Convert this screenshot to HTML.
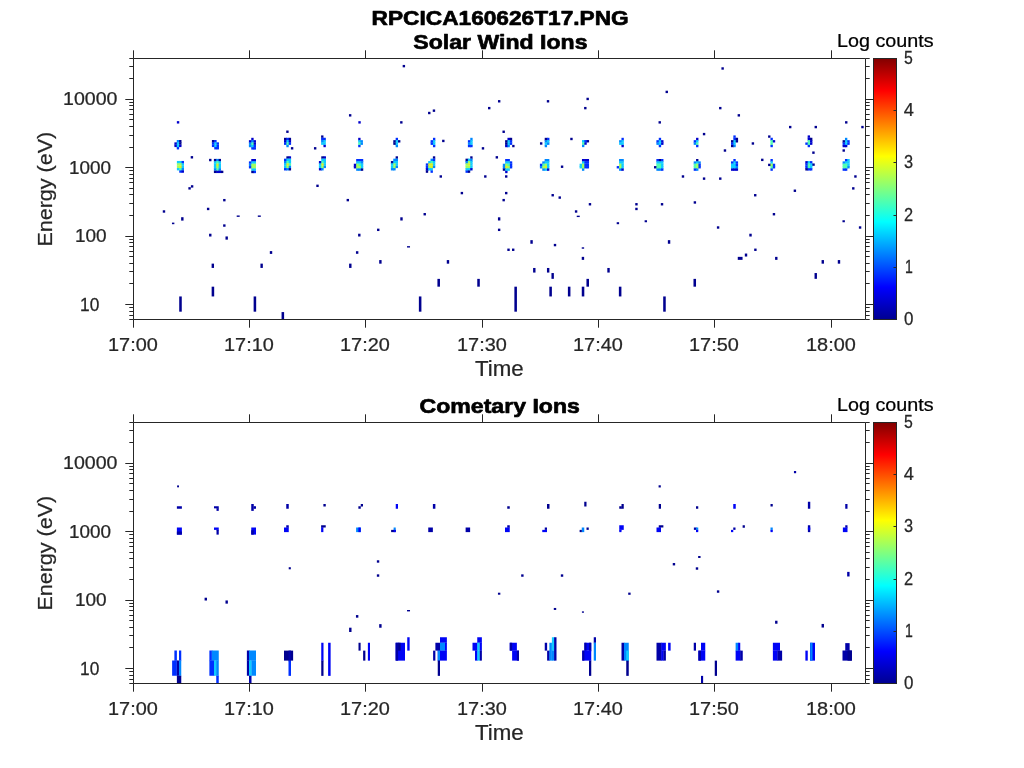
<!DOCTYPE html>
<html><head><meta charset="utf-8"><title>RPCICA160626T17</title>
<style>html,body{margin:0;padding:0;background:#fff;overflow:hidden}svg{display:block}</style></head>
<body>
<svg width="1024" height="768" viewBox="0 0 1024 768" font-family="'Liberation Sans', sans-serif" shape-rendering="auto" style="will-change:transform">
<defs><linearGradient id="jet" x1="0" y1="1" x2="0" y2="0">
<stop offset="0" stop-color="#00008f"/><stop offset="0.125" stop-color="#0000ff"/><stop offset="0.375" stop-color="#00ffff"/>
<stop offset="0.625" stop-color="#ffff00"/><stop offset="0.875" stop-color="#ff0000"/><stop offset="1" stop-color="#800000"/>
</linearGradient></defs>
<rect width="1024" height="768" fill="#fff"/>
<g shape-rendering="auto" style="will-change:transform">
<rect x="216.50" y="508.36" width="2.25" height="0.57" fill="#0000a8"/>
<rect x="216.50" y="529.86" width="2.25" height="0.57" fill="#0004f6"/>
<rect x="253.73" y="506.25" width="0.57" height="2.50" fill="#0000a8"/>
<rect x="286.25" y="527.48" width="2.50" height="0.57" fill="#0000a8"/>
<rect x="321.12" y="527.48" width="2.25" height="0.57" fill="#00008f"/>
<rect x="360.73" y="506.25" width="0.57" height="0.25" fill="#00008f"/>
<rect x="393.62" y="529.86" width="2.12" height="0.57" fill="#0088ff"/>
<rect x="393.62" y="529.86" width="2.12" height="0.57" fill="#0088ff"/>
<rect x="507.25" y="527.48" width="2.50" height="0.57" fill="#0000a8"/>
<rect x="544.75" y="529.86" width="2.25" height="0.57" fill="#0000a8"/>
<rect x="581.73" y="529.88" width="0.57" height="2.25" fill="#00008f"/>
<rect x="621.48" y="506.25" width="0.57" height="2.50" fill="#00008f"/>
<rect x="619.25" y="529.86" width="2.25" height="0.57" fill="#0004f6"/>
<rect x="658.75" y="527.48" width="2.25" height="0.57" fill="#00008f"/>
<rect x="695.98" y="527.50" width="0.57" height="2.38" fill="#0000a8"/>
<rect x="696.00" y="529.86" width="2.25" height="0.57" fill="#0088ff"/>
<rect x="770.50" y="529.86" width="2.25" height="0.57" fill="#0088ff"/>
<rect x="845.25" y="527.48" width="2.25" height="0.57" fill="#0000a8"/>
<rect x="174.38" y="660.48" width="2.50" height="0.57" fill="#0030ff"/>
<rect x="179.00" y="660.48" width="2.25" height="0.57" fill="#0030ff"/>
<rect x="176.85" y="660.50" width="0.57" height="15.25" fill="#0030ff"/>
<rect x="178.98" y="660.50" width="0.57" height="15.25" fill="#0000a8"/>
<rect x="176.88" y="675.73" width="2.12" height="0.57" fill="#0000a8"/>
<rect x="179.00" y="675.73" width="2.25" height="0.57" fill="#0088ff"/>
<rect x="211.85" y="650.50" width="0.57" height="10.00" fill="#0030ff"/>
<rect x="209.38" y="660.48" width="2.50" height="0.57" fill="#0030ff"/>
<rect x="211.88" y="660.48" width="2.12" height="0.57" fill="#0088ff"/>
<rect x="214.00" y="660.48" width="2.25" height="0.57" fill="#0088ff"/>
<rect x="216.25" y="660.48" width="2.50" height="0.57" fill="#0088ff"/>
<rect x="213.98" y="660.50" width="0.57" height="15.25" fill="#0030ff"/>
<rect x="216.23" y="660.50" width="0.57" height="15.25" fill="#10ccff"/>
<rect x="216.25" y="675.73" width="2.50" height="0.57" fill="#0088ff"/>
<rect x="248.98" y="650.50" width="0.57" height="10.00" fill="#0000a8"/>
<rect x="246.88" y="660.48" width="2.12" height="0.57" fill="#0000a8"/>
<rect x="249.00" y="660.48" width="2.50" height="0.57" fill="#0088ff"/>
<rect x="251.50" y="660.48" width="4.50" height="0.57" fill="#0088ff"/>
<rect x="248.98" y="660.50" width="0.57" height="15.25" fill="#0000a8"/>
<rect x="251.48" y="660.50" width="0.57" height="15.25" fill="#10ccff"/>
<rect x="249.00" y="675.73" width="2.50" height="0.57" fill="#10ccff"/>
<rect x="288.50" y="660.61" width="2.50" height="0.57" fill="#00008f"/>
<rect x="288.50" y="660.61" width="2.50" height="0.57" fill="#0000a8"/>
<rect x="321.25" y="660.61" width="2.25" height="0.57" fill="#0004f6"/>
<rect x="398.11" y="642.75" width="0.57" height="7.88" fill="#0000a8"/>
<rect x="440.00" y="642.73" width="5.00" height="0.57" fill="#0004f6"/>
<rect x="445.00" y="642.73" width="1.88" height="0.57" fill="#0004f6"/>
<rect x="439.98" y="642.75" width="0.57" height="7.88" fill="#0000a8"/>
<rect x="437.75" y="650.61" width="2.25" height="0.57" fill="#0000a8"/>
<rect x="437.75" y="650.61" width="2.25" height="0.57" fill="#0000a8"/>
<rect x="444.98" y="642.75" width="0.57" height="7.88" fill="#0088ff"/>
<rect x="440.00" y="650.61" width="5.00" height="0.57" fill="#0088ff"/>
<rect x="445.00" y="650.61" width="1.88" height="0.57" fill="#0004f6"/>
<rect x="437.75" y="660.61" width="2.25" height="0.57" fill="#0004f6"/>
<rect x="437.75" y="660.61" width="2.25" height="0.57" fill="#0088ff"/>
<rect x="477.25" y="642.73" width="2.50" height="0.57" fill="#0004f6"/>
<rect x="479.75" y="642.73" width="2.12" height="0.57" fill="#0004f6"/>
<rect x="477.23" y="642.75" width="0.57" height="7.88" fill="#0004f6"/>
<rect x="475.00" y="650.61" width="2.25" height="0.57" fill="#0004f6"/>
<rect x="479.73" y="642.75" width="0.57" height="7.88" fill="#10ccff"/>
<rect x="477.25" y="650.61" width="2.50" height="0.57" fill="#10ccff"/>
<rect x="479.75" y="650.61" width="2.12" height="0.57" fill="#0004f6"/>
<rect x="477.23" y="650.62" width="0.57" height="10.00" fill="#0004f6"/>
<rect x="479.73" y="650.62" width="0.57" height="10.00" fill="#10ccff"/>
<rect x="512.12" y="650.61" width="4.75" height="0.57" fill="#0004f6"/>
<rect x="549.36" y="650.62" width="0.57" height="10.00" fill="#0000a8"/>
<rect x="551.86" y="642.75" width="0.57" height="7.88" fill="#0088ff"/>
<rect x="551.86" y="650.62" width="0.57" height="10.00" fill="#0088ff"/>
<rect x="551.88" y="650.61" width="2.25" height="0.57" fill="#10ccff"/>
<rect x="554.11" y="637.25" width="0.57" height="13.38" fill="#10ccff"/>
<rect x="554.11" y="650.62" width="0.57" height="10.00" fill="#0088ff"/>
<rect x="584.38" y="650.61" width="6.88" height="0.57" fill="#0004f6"/>
<rect x="584.38" y="650.61" width="2.12" height="0.57" fill="#0000a8"/>
<rect x="589.00" y="650.61" width="2.25" height="0.57" fill="#0000a8"/>
<rect x="589.00" y="660.61" width="2.25" height="0.57" fill="#0004f6"/>
<rect x="593.75" y="642.73" width="2.25" height="0.57" fill="#0000a8"/>
<rect x="623.98" y="642.75" width="0.57" height="17.88" fill="#0000a8"/>
<rect x="626.25" y="660.61" width="2.50" height="0.57" fill="#0088ff"/>
<rect x="626.25" y="660.61" width="2.50" height="0.57" fill="#10ccff"/>
<rect x="661.23" y="642.75" width="0.57" height="7.88" fill="#0000a8"/>
<rect x="661.23" y="650.62" width="0.57" height="10.00" fill="#0000a8"/>
<rect x="661.25" y="650.61" width="2.25" height="0.57" fill="#0004f6"/>
<rect x="663.50" y="650.61" width="2.38" height="0.57" fill="#0004f6"/>
<rect x="663.48" y="650.62" width="0.57" height="10.00" fill="#0004f6"/>
<rect x="701.00" y="650.61" width="4.25" height="0.57" fill="#0004f6"/>
<rect x="738.11" y="642.75" width="0.57" height="7.88" fill="#0088ff"/>
<rect x="735.62" y="650.61" width="2.50" height="0.57" fill="#0088ff"/>
<rect x="738.12" y="650.61" width="2.12" height="0.57" fill="#0004f6"/>
<rect x="740.23" y="650.62" width="0.57" height="10.00" fill="#0004f6"/>
<rect x="772.88" y="650.61" width="4.62" height="0.57" fill="#0004f6"/>
<rect x="777.50" y="650.61" width="2.50" height="0.57" fill="#0004f6"/>
<rect x="777.48" y="650.62" width="0.57" height="10.00" fill="#0004f6"/>
<rect x="845.25" y="650.48" width="4.38" height="0.57" fill="#0000a8"/>
<rect x="847.50" y="650.48" width="2.12" height="0.57" fill="#0000a8"/>
<rect x="162.78" y="210.28" width="2.40" height="2.40" fill="#00008f"/>
<rect x="206.93" y="207.75" width="2.40" height="2.40" fill="#00008f"/>
<rect x="223.14" y="198.96" width="2.40" height="2.40" fill="#00008f"/>
<rect x="171.96" y="222.60" width="2.40" height="1.60" fill="#00008f"/>
<rect x="181.14" y="217.21" width="2.40" height="3.40" fill="#00008f"/>
<rect x="236.70" y="215.47" width="3.00" height="1.40" fill="#00008f"/>
<rect x="257.80" y="215.47" width="3.00" height="1.40" fill="#00008f"/>
<rect x="223.14" y="224.35" width="2.40" height="2.40" fill="#00008f"/>
<rect x="209.07" y="233.72" width="2.40" height="2.80" fill="#00008f"/>
<rect x="225.48" y="236.45" width="2.40" height="3.20" fill="#00008f"/>
<rect x="269.82" y="251.10" width="2.40" height="2.80" fill="#00008f"/>
<rect x="211.61" y="263.63" width="2.40" height="4.30" fill="#00008f"/>
<rect x="260.44" y="263.63" width="2.40" height="4.30" fill="#00008f"/>
<rect x="211.64" y="286.68" width="2.54" height="9.77" fill="#00008f"/>
<rect x="179.22" y="296.45" width="2.54" height="15.23" fill="#00008f"/>
<rect x="253.63" y="296.45" width="2.54" height="15.23" fill="#00008f"/>
<rect x="281.56" y="312.07" width="2.54" height="7.23" fill="#00008f"/>
<rect x="176.85" y="121.14" width="2.40" height="2.40" fill="#0000cc"/>
<rect x="286.22" y="130.52" width="2.40" height="2.40" fill="#00008f"/>
<rect x="290.91" y="147.12" width="2.40" height="2.40" fill="#00008f"/>
<rect x="313.96" y="147.12" width="2.40" height="2.40" fill="#00008f"/>
<rect x="190.71" y="156.10" width="2.40" height="2.40" fill="#00008f"/>
<rect x="209.07" y="158.84" width="2.40" height="2.40" fill="#00008f"/>
<rect x="190.91" y="185.21" width="2.40" height="2.40" fill="#00008f"/>
<rect x="188.37" y="187.16" width="2.40" height="2.40" fill="#00008f"/>
<rect x="316.30" y="184.62" width="2.40" height="2.40" fill="#00008f"/>
<rect x="402.67" y="64.93" width="2.40" height="2.40" fill="#00008f"/>
<rect x="348.96" y="114.15" width="2.40" height="2.40" fill="#00008f"/>
<rect x="358.33" y="121.18" width="2.40" height="2.40" fill="#0000cc"/>
<rect x="400.13" y="121.18" width="2.40" height="2.40" fill="#00008f"/>
<rect x="428.06" y="111.81" width="2.40" height="2.40" fill="#00008f"/>
<rect x="432.75" y="109.46" width="2.40" height="2.40" fill="#00008f"/>
<rect x="488.02" y="106.92" width="2.40" height="2.40" fill="#00008f"/>
<rect x="442.12" y="139.74" width="2.40" height="2.40" fill="#00008f"/>
<rect x="481.77" y="147.16" width="2.40" height="2.40" fill="#00008f"/>
<rect x="439.58" y="175.28" width="2.40" height="2.40" fill="#00008f"/>
<rect x="484.11" y="175.28" width="2.40" height="2.40" fill="#00008f"/>
<rect x="460.68" y="191.89" width="2.40" height="2.40" fill="#00008f"/>
<rect x="346.61" y="198.92" width="2.40" height="2.40" fill="#00008f"/>
<rect x="497.98" y="100.09" width="2.40" height="2.40" fill="#00008f"/>
<rect x="546.81" y="100.09" width="2.40" height="2.40" fill="#00008f"/>
<rect x="586.46" y="97.75" width="2.40" height="2.40" fill="#00008f"/>
<rect x="584.11" y="106.92" width="2.40" height="2.40" fill="#00008f"/>
<rect x="665.56" y="90.71" width="2.40" height="2.40" fill="#00008f"/>
<rect x="658.53" y="121.18" width="2.40" height="2.40" fill="#00008f"/>
<rect x="502.47" y="130.56" width="2.40" height="2.40" fill="#00008f"/>
<rect x="539.97" y="142.28" width="2.40" height="2.40" fill="#00008f"/>
<rect x="570.25" y="137.78" width="2.40" height="2.40" fill="#00008f"/>
<rect x="495.64" y="156.14" width="2.40" height="2.40" fill="#00008f"/>
<rect x="560.87" y="165.52" width="2.40" height="2.40" fill="#00008f"/>
<rect x="505.01" y="175.28" width="2.40" height="2.40" fill="#00008f"/>
<rect x="681.77" y="175.28" width="2.40" height="2.40" fill="#00008f"/>
<rect x="505.01" y="191.89" width="2.40" height="2.40" fill="#00008f"/>
<rect x="502.47" y="198.92" width="2.40" height="2.40" fill="#00008f"/>
<rect x="551.50" y="194.03" width="2.40" height="2.40" fill="#00008f"/>
<rect x="558.53" y="196.38" width="2.40" height="2.40" fill="#00008f"/>
<rect x="721.42" y="67.28" width="2.40" height="2.40" fill="#00008f"/>
<rect x="719.07" y="106.92" width="2.40" height="2.40" fill="#00008f"/>
<rect x="737.63" y="114.15" width="2.40" height="2.40" fill="#00008f"/>
<rect x="789.00" y="125.87" width="2.40" height="2.40" fill="#00008f"/>
<rect x="814.58" y="125.87" width="2.40" height="2.40" fill="#00008f"/>
<rect x="845.05" y="121.18" width="2.40" height="2.40" fill="#00008f"/>
<rect x="861.26" y="125.87" width="2.40" height="2.40" fill="#00008f"/>
<rect x="702.86" y="132.90" width="2.40" height="2.40" fill="#00008f"/>
<rect x="751.69" y="142.28" width="2.40" height="2.40" fill="#00008f"/>
<rect x="723.76" y="149.31" width="2.40" height="2.40" fill="#00008f"/>
<rect x="812.24" y="151.46" width="2.40" height="2.40" fill="#00008f"/>
<rect x="842.51" y="149.31" width="2.40" height="2.40" fill="#00008f"/>
<rect x="761.07" y="158.68" width="2.40" height="2.40" fill="#00008f"/>
<rect x="702.86" y="177.43" width="2.40" height="2.40" fill="#00008f"/>
<rect x="719.07" y="177.43" width="2.40" height="2.40" fill="#00008f"/>
<rect x="854.23" y="175.28" width="2.40" height="2.40" fill="#00008f"/>
<rect x="852.08" y="187.20" width="2.40" height="2.40" fill="#00008f"/>
<rect x="793.68" y="189.54" width="2.40" height="2.40" fill="#00008f"/>
<rect x="754.03" y="194.03" width="2.40" height="2.40" fill="#00008f"/>
<rect x="693.68" y="201.26" width="2.40" height="2.40" fill="#00008f"/>
<rect x="423.53" y="213.02" width="2.40" height="2.40" fill="#00008f"/>
<rect x="400.28" y="217.31" width="2.40" height="3.20" fill="#00008f"/>
<rect x="497.94" y="217.31" width="2.40" height="3.20" fill="#00008f"/>
<rect x="377.04" y="228.64" width="2.40" height="2.40" fill="#00008f"/>
<rect x="497.94" y="228.64" width="2.40" height="2.40" fill="#00008f"/>
<rect x="358.10" y="233.72" width="2.40" height="2.80" fill="#00008f"/>
<rect x="407.02" y="246.14" width="3.00" height="1.40" fill="#00008f"/>
<rect x="355.95" y="251.20" width="2.40" height="2.60" fill="#00008f"/>
<rect x="507.32" y="248.57" width="2.40" height="2.40" fill="#00008f"/>
<rect x="512.00" y="248.57" width="2.40" height="2.40" fill="#00008f"/>
<rect x="349.11" y="263.63" width="2.40" height="4.30" fill="#00008f"/>
<rect x="379.19" y="260.07" width="2.40" height="3.60" fill="#00008f"/>
<rect x="446.77" y="260.07" width="2.40" height="3.60" fill="#00008f"/>
<rect x="437.42" y="278.87" width="2.54" height="7.81" fill="#00008f"/>
<rect x="477.27" y="278.87" width="2.54" height="7.81" fill="#00008f"/>
<rect x="418.87" y="296.45" width="2.54" height="15.23" fill="#00008f"/>
<rect x="514.38" y="286.68" width="2.54" height="25.00" fill="#00008f"/>
<rect x="588.76" y="203.06" width="2.40" height="2.40" fill="#00008f"/>
<rect x="635.25" y="203.06" width="2.40" height="2.40" fill="#00008f"/>
<rect x="635.25" y="207.75" width="2.40" height="2.40" fill="#00008f"/>
<rect x="660.83" y="203.06" width="2.40" height="2.40" fill="#00008f"/>
<rect x="574.89" y="210.28" width="2.40" height="2.40" fill="#00008f"/>
<rect x="576.74" y="215.67" width="3.00" height="1.40" fill="#00008f"/>
<rect x="616.69" y="222.20" width="2.40" height="2.00" fill="#00008f"/>
<rect x="644.62" y="220.25" width="2.40" height="2.00" fill="#00008f"/>
<rect x="716.89" y="226.30" width="2.40" height="2.40" fill="#00008f"/>
<rect x="530.36" y="240.15" width="2.40" height="3.60" fill="#00008f"/>
<rect x="667.86" y="240.15" width="2.40" height="3.60" fill="#00008f"/>
<rect x="553.80" y="243.88" width="2.40" height="2.40" fill="#00008f"/>
<rect x="581.73" y="247.31" width="2.40" height="1.40" fill="#00008f"/>
<rect x="581.73" y="256.86" width="2.40" height="3.00" fill="#00008f"/>
<rect x="533.10" y="267.97" width="2.40" height="4.60" fill="#00008f"/>
<rect x="546.96" y="267.97" width="2.40" height="4.60" fill="#00008f"/>
<rect x="607.32" y="267.97" width="2.40" height="4.60" fill="#00008f"/>
<rect x="551.46" y="273.04" width="2.40" height="5.80" fill="#00008f"/>
<rect x="586.45" y="278.87" width="2.54" height="7.81" fill="#00008f"/>
<rect x="693.48" y="278.87" width="2.54" height="7.81" fill="#00008f"/>
<rect x="549.34" y="286.68" width="2.54" height="9.77" fill="#00008f"/>
<rect x="567.89" y="286.68" width="2.54" height="9.77" fill="#00008f"/>
<rect x="581.76" y="286.68" width="2.54" height="9.77" fill="#00008f"/>
<rect x="618.87" y="286.68" width="2.54" height="9.77" fill="#00008f"/>
<rect x="663.20" y="296.45" width="2.54" height="15.23" fill="#00008f"/>
<rect x="772.75" y="213.02" width="2.40" height="2.40" fill="#00008f"/>
<rect x="842.47" y="220.25" width="2.40" height="2.00" fill="#00008f"/>
<rect x="858.88" y="226.30" width="2.40" height="2.40" fill="#00008f"/>
<rect x="749.31" y="233.72" width="2.40" height="2.80" fill="#00008f"/>
<rect x="754.19" y="248.57" width="2.40" height="2.40" fill="#00008f"/>
<rect x="744.82" y="253.54" width="2.40" height="3.00" fill="#00008f"/>
<rect x="737.76" y="256.86" width="4.80" height="3.00" fill="#00008f"/>
<rect x="775.09" y="256.86" width="2.40" height="3.00" fill="#00008f"/>
<rect x="821.57" y="260.07" width="2.40" height="3.60" fill="#00008f"/>
<rect x="837.78" y="260.07" width="2.40" height="3.60" fill="#00008f"/>
<rect x="814.54" y="273.04" width="2.40" height="5.80" fill="#00008f"/>
<rect x="176.76" y="140.00" width="2.96" height="2.36" fill="#0088ff"/>
<rect x="176.76" y="142.35" width="2.36" height="0.61" fill="#0088ff"/>
<rect x="179.12" y="140.00" width="2.36" height="2.36" fill="#00008f"/>
<rect x="179.12" y="142.35" width="2.36" height="0.61" fill="#00008f"/>
<rect x="174.40" y="142.36" width="2.96" height="2.36" fill="#0000cc"/>
<rect x="174.40" y="144.71" width="2.36" height="0.61" fill="#0000cc"/>
<rect x="176.76" y="142.36" width="2.96" height="2.36" fill="#10ccff"/>
<rect x="176.76" y="144.71" width="2.36" height="0.61" fill="#10ccff"/>
<rect x="179.12" y="142.36" width="2.36" height="2.36" fill="#00008f"/>
<rect x="179.12" y="144.71" width="2.36" height="0.61" fill="#00008f"/>
<rect x="174.40" y="144.72" width="2.96" height="2.36" fill="#0000cc"/>
<rect x="176.76" y="144.72" width="2.96" height="2.36" fill="#10ccff"/>
<rect x="176.76" y="147.07" width="2.36" height="0.61" fill="#10ccff"/>
<rect x="179.12" y="144.72" width="2.36" height="2.36" fill="#0000cc"/>
<rect x="176.76" y="147.08" width="2.36" height="2.36" fill="#0030ff"/>
<rect x="176.90" y="160.95" width="2.96" height="2.36" fill="#10ccff"/>
<rect x="176.90" y="163.30" width="2.36" height="0.61" fill="#10ccff"/>
<rect x="179.26" y="160.95" width="2.96" height="2.36" fill="#10ccff"/>
<rect x="179.26" y="163.30" width="2.36" height="0.61" fill="#10ccff"/>
<rect x="181.62" y="160.95" width="2.36" height="2.36" fill="#0030ff"/>
<rect x="181.62" y="163.30" width="2.36" height="0.61" fill="#0030ff"/>
<rect x="176.90" y="163.31" width="2.96" height="2.36" fill="#a0ff60"/>
<rect x="176.90" y="165.66" width="2.36" height="0.61" fill="#a0ff60"/>
<rect x="179.26" y="163.31" width="2.96" height="2.36" fill="#a0ff60"/>
<rect x="179.26" y="165.66" width="2.36" height="0.61" fill="#a0ff60"/>
<rect x="181.62" y="163.31" width="2.36" height="2.36" fill="#10ccff"/>
<rect x="181.62" y="165.66" width="2.36" height="0.61" fill="#10ccff"/>
<rect x="176.90" y="165.67" width="2.96" height="2.36" fill="#a0ff60"/>
<rect x="176.90" y="168.02" width="2.36" height="0.61" fill="#a0ff60"/>
<rect x="179.26" y="165.67" width="2.96" height="2.36" fill="#e0f020"/>
<rect x="179.26" y="168.02" width="2.36" height="0.61" fill="#e0f020"/>
<rect x="181.62" y="165.67" width="2.36" height="2.36" fill="#10ccff"/>
<rect x="181.62" y="168.02" width="2.36" height="0.61" fill="#10ccff"/>
<rect x="176.90" y="168.03" width="2.96" height="2.36" fill="#10ccff"/>
<rect x="179.26" y="168.03" width="2.96" height="2.36" fill="#50ffb0"/>
<rect x="179.26" y="170.38" width="2.36" height="0.61" fill="#50ffb0"/>
<rect x="181.62" y="168.03" width="2.36" height="2.36" fill="#0088ff"/>
<rect x="181.62" y="170.38" width="2.36" height="0.61" fill="#0088ff"/>
<rect x="179.26" y="170.39" width="2.96" height="2.36" fill="#0030ff"/>
<rect x="181.62" y="170.39" width="2.36" height="2.36" fill="#0000cc"/>
<rect x="211.90" y="140.00" width="2.96" height="2.36" fill="#00008f"/>
<rect x="211.90" y="142.35" width="2.36" height="0.61" fill="#00008f"/>
<rect x="214.26" y="140.00" width="2.36" height="2.36" fill="#0030ff"/>
<rect x="214.26" y="142.35" width="2.36" height="0.61" fill="#0030ff"/>
<rect x="211.90" y="142.36" width="2.96" height="2.36" fill="#0030ff"/>
<rect x="211.90" y="144.71" width="2.36" height="0.61" fill="#0030ff"/>
<rect x="214.26" y="142.36" width="2.96" height="2.36" fill="#10ccff"/>
<rect x="214.26" y="144.71" width="2.36" height="0.61" fill="#10ccff"/>
<rect x="216.62" y="142.36" width="2.36" height="2.36" fill="#0030ff"/>
<rect x="216.62" y="144.71" width="2.36" height="0.61" fill="#0030ff"/>
<rect x="211.90" y="144.72" width="2.96" height="2.36" fill="#0030ff"/>
<rect x="214.26" y="144.72" width="2.96" height="2.36" fill="#10ccff"/>
<rect x="214.26" y="147.07" width="2.36" height="0.61" fill="#10ccff"/>
<rect x="216.62" y="144.72" width="2.36" height="2.36" fill="#0030ff"/>
<rect x="216.62" y="147.07" width="2.36" height="0.61" fill="#0030ff"/>
<rect x="214.26" y="147.08" width="2.96" height="2.36" fill="#0030ff"/>
<rect x="216.62" y="147.08" width="2.36" height="2.36" fill="#0030ff"/>
<rect x="213.90" y="158.90" width="2.96" height="2.36" fill="#00008f"/>
<rect x="213.90" y="161.25" width="2.36" height="0.61" fill="#00008f"/>
<rect x="216.26" y="158.90" width="2.96" height="2.36" fill="#0088ff"/>
<rect x="216.26" y="161.25" width="2.36" height="0.61" fill="#0088ff"/>
<rect x="218.62" y="158.90" width="2.36" height="2.36" fill="#00008f"/>
<rect x="218.62" y="161.25" width="2.36" height="0.61" fill="#00008f"/>
<rect x="213.90" y="161.26" width="2.96" height="2.36" fill="#10ccff"/>
<rect x="213.90" y="163.61" width="2.36" height="0.61" fill="#10ccff"/>
<rect x="216.26" y="161.26" width="2.96" height="2.36" fill="#50ffb0"/>
<rect x="216.26" y="163.61" width="2.36" height="0.61" fill="#50ffb0"/>
<rect x="218.62" y="161.26" width="2.36" height="2.36" fill="#10ccff"/>
<rect x="218.62" y="163.61" width="2.36" height="0.61" fill="#10ccff"/>
<rect x="213.90" y="163.62" width="2.96" height="2.36" fill="#10ccff"/>
<rect x="213.90" y="165.97" width="2.36" height="0.61" fill="#10ccff"/>
<rect x="216.26" y="163.62" width="2.96" height="2.36" fill="#e0f020"/>
<rect x="216.26" y="165.97" width="2.36" height="0.61" fill="#e0f020"/>
<rect x="218.62" y="163.62" width="2.36" height="2.36" fill="#10ccff"/>
<rect x="218.62" y="165.97" width="2.36" height="0.61" fill="#10ccff"/>
<rect x="213.90" y="165.98" width="2.96" height="2.36" fill="#10ccff"/>
<rect x="213.90" y="168.33" width="2.36" height="0.61" fill="#10ccff"/>
<rect x="216.26" y="165.98" width="2.96" height="2.36" fill="#a0ff60"/>
<rect x="216.26" y="168.33" width="2.36" height="0.61" fill="#a0ff60"/>
<rect x="218.62" y="165.98" width="2.36" height="2.36" fill="#10ccff"/>
<rect x="218.62" y="168.33" width="2.36" height="0.61" fill="#10ccff"/>
<rect x="213.90" y="168.34" width="2.96" height="2.36" fill="#0088ff"/>
<rect x="213.90" y="170.69" width="2.36" height="0.61" fill="#0088ff"/>
<rect x="216.26" y="168.34" width="2.96" height="2.36" fill="#50ffb0"/>
<rect x="216.26" y="170.69" width="2.36" height="0.61" fill="#50ffb0"/>
<rect x="218.62" y="168.34" width="2.36" height="2.36" fill="#0088ff"/>
<rect x="218.62" y="170.69" width="2.36" height="0.61" fill="#0088ff"/>
<rect x="213.90" y="170.70" width="2.96" height="2.36" fill="#00008f"/>
<rect x="216.26" y="170.70" width="2.96" height="2.36" fill="#0000cc"/>
<rect x="218.62" y="170.70" width="2.96" height="2.36" fill="#0000cc"/>
<rect x="220.98" y="170.70" width="2.36" height="2.36" fill="#00008f"/>
<rect x="251.26" y="137.80" width="2.36" height="2.36" fill="#0000cc"/>
<rect x="251.26" y="140.15" width="2.36" height="0.61" fill="#0000cc"/>
<rect x="248.90" y="140.16" width="2.96" height="2.36" fill="#0000cc"/>
<rect x="248.90" y="142.51" width="2.36" height="0.61" fill="#0000cc"/>
<rect x="251.26" y="140.16" width="2.96" height="2.36" fill="#0088ff"/>
<rect x="251.26" y="142.51" width="2.36" height="0.61" fill="#0088ff"/>
<rect x="253.62" y="140.16" width="2.36" height="2.36" fill="#0000cc"/>
<rect x="253.62" y="142.51" width="2.36" height="0.61" fill="#0000cc"/>
<rect x="248.90" y="142.52" width="2.96" height="2.36" fill="#0088ff"/>
<rect x="248.90" y="144.87" width="2.36" height="0.61" fill="#0088ff"/>
<rect x="251.26" y="142.52" width="2.96" height="2.36" fill="#50ffb0"/>
<rect x="251.26" y="144.87" width="2.36" height="0.61" fill="#50ffb0"/>
<rect x="253.62" y="142.52" width="2.36" height="2.36" fill="#0000cc"/>
<rect x="253.62" y="144.87" width="2.36" height="0.61" fill="#0000cc"/>
<rect x="248.90" y="144.88" width="2.96" height="2.36" fill="#0088ff"/>
<rect x="251.26" y="144.88" width="2.96" height="2.36" fill="#10ccff"/>
<rect x="251.26" y="147.23" width="2.36" height="0.61" fill="#10ccff"/>
<rect x="253.62" y="144.88" width="2.36" height="2.36" fill="#0030ff"/>
<rect x="253.62" y="147.23" width="2.36" height="0.61" fill="#0030ff"/>
<rect x="251.26" y="147.24" width="2.96" height="2.36" fill="#0030ff"/>
<rect x="253.62" y="147.24" width="2.36" height="2.36" fill="#0030ff"/>
<rect x="251.26" y="159.00" width="2.96" height="2.36" fill="#0000cc"/>
<rect x="251.26" y="161.35" width="2.36" height="0.61" fill="#0000cc"/>
<rect x="253.62" y="159.00" width="2.36" height="2.36" fill="#0000cc"/>
<rect x="253.62" y="161.35" width="2.36" height="0.61" fill="#0000cc"/>
<rect x="248.90" y="161.36" width="2.96" height="2.36" fill="#0030ff"/>
<rect x="248.90" y="163.71" width="2.36" height="0.61" fill="#0030ff"/>
<rect x="251.26" y="161.36" width="2.96" height="2.36" fill="#10ccff"/>
<rect x="251.26" y="163.71" width="2.36" height="0.61" fill="#10ccff"/>
<rect x="253.62" y="161.36" width="2.36" height="2.36" fill="#10ccff"/>
<rect x="253.62" y="163.71" width="2.36" height="0.61" fill="#10ccff"/>
<rect x="248.90" y="163.72" width="2.96" height="2.36" fill="#0088ff"/>
<rect x="248.90" y="166.07" width="2.36" height="0.61" fill="#0088ff"/>
<rect x="251.26" y="163.72" width="2.96" height="2.36" fill="#a0ff60"/>
<rect x="251.26" y="166.07" width="2.36" height="0.61" fill="#a0ff60"/>
<rect x="253.62" y="163.72" width="2.36" height="2.36" fill="#a0ff60"/>
<rect x="253.62" y="166.07" width="2.36" height="0.61" fill="#a0ff60"/>
<rect x="248.90" y="166.08" width="2.96" height="2.36" fill="#0030ff"/>
<rect x="251.26" y="166.08" width="2.96" height="2.36" fill="#a0ff60"/>
<rect x="251.26" y="168.43" width="2.36" height="0.61" fill="#a0ff60"/>
<rect x="253.62" y="166.08" width="2.36" height="2.36" fill="#a0ff60"/>
<rect x="253.62" y="168.43" width="2.36" height="0.61" fill="#a0ff60"/>
<rect x="251.26" y="168.44" width="2.96" height="2.36" fill="#10ccff"/>
<rect x="251.26" y="170.79" width="2.36" height="0.61" fill="#10ccff"/>
<rect x="253.62" y="168.44" width="2.36" height="2.36" fill="#10ccff"/>
<rect x="253.62" y="170.79" width="2.36" height="0.61" fill="#10ccff"/>
<rect x="251.26" y="170.80" width="2.96" height="2.36" fill="#00008f"/>
<rect x="253.62" y="170.80" width="2.36" height="2.36" fill="#0030ff"/>
<rect x="284.00" y="137.80" width="2.96" height="2.36" fill="#00008f"/>
<rect x="284.00" y="140.15" width="2.36" height="0.61" fill="#00008f"/>
<rect x="286.36" y="137.80" width="2.96" height="2.36" fill="#0030ff"/>
<rect x="286.36" y="140.15" width="2.36" height="0.61" fill="#0030ff"/>
<rect x="288.72" y="137.80" width="2.36" height="2.36" fill="#00008f"/>
<rect x="288.72" y="140.15" width="2.36" height="0.61" fill="#00008f"/>
<rect x="284.00" y="140.16" width="2.96" height="2.36" fill="#0000cc"/>
<rect x="284.00" y="142.51" width="2.36" height="0.61" fill="#0000cc"/>
<rect x="286.36" y="140.16" width="2.96" height="2.36" fill="#10ccff"/>
<rect x="286.36" y="142.51" width="2.36" height="0.61" fill="#10ccff"/>
<rect x="288.72" y="140.16" width="2.36" height="2.36" fill="#0000cc"/>
<rect x="288.72" y="142.51" width="2.36" height="0.61" fill="#0000cc"/>
<rect x="284.00" y="142.52" width="2.96" height="2.36" fill="#0030ff"/>
<rect x="286.36" y="142.52" width="2.96" height="2.36" fill="#50ffb0"/>
<rect x="286.36" y="144.87" width="2.36" height="0.61" fill="#50ffb0"/>
<rect x="288.72" y="142.52" width="2.36" height="2.36" fill="#0030ff"/>
<rect x="286.36" y="144.88" width="2.36" height="2.36" fill="#0088ff"/>
<rect x="286.36" y="156.30" width="2.96" height="2.36" fill="#00008f"/>
<rect x="286.36" y="158.65" width="2.36" height="0.61" fill="#00008f"/>
<rect x="288.72" y="156.30" width="2.36" height="2.36" fill="#0000cc"/>
<rect x="288.72" y="158.65" width="2.36" height="0.61" fill="#0000cc"/>
<rect x="284.00" y="158.66" width="2.96" height="2.36" fill="#0030ff"/>
<rect x="284.00" y="161.01" width="2.36" height="0.61" fill="#0030ff"/>
<rect x="286.36" y="158.66" width="2.96" height="2.36" fill="#10ccff"/>
<rect x="286.36" y="161.01" width="2.36" height="0.61" fill="#10ccff"/>
<rect x="288.72" y="158.66" width="2.36" height="2.36" fill="#10ccff"/>
<rect x="288.72" y="161.01" width="2.36" height="0.61" fill="#10ccff"/>
<rect x="284.00" y="161.02" width="2.96" height="2.36" fill="#0088ff"/>
<rect x="284.00" y="163.37" width="2.36" height="0.61" fill="#0088ff"/>
<rect x="286.36" y="161.02" width="2.96" height="2.36" fill="#50ffb0"/>
<rect x="286.36" y="163.37" width="2.36" height="0.61" fill="#50ffb0"/>
<rect x="288.72" y="161.02" width="2.36" height="2.36" fill="#10ccff"/>
<rect x="288.72" y="163.37" width="2.36" height="0.61" fill="#10ccff"/>
<rect x="284.00" y="163.38" width="2.96" height="2.36" fill="#10ccff"/>
<rect x="284.00" y="165.73" width="2.36" height="0.61" fill="#10ccff"/>
<rect x="286.36" y="163.38" width="2.96" height="2.36" fill="#e0f020"/>
<rect x="286.36" y="165.73" width="2.36" height="0.61" fill="#e0f020"/>
<rect x="288.72" y="163.38" width="2.36" height="2.36" fill="#50ffb0"/>
<rect x="288.72" y="165.73" width="2.36" height="0.61" fill="#50ffb0"/>
<rect x="284.00" y="165.74" width="2.96" height="2.36" fill="#10ccff"/>
<rect x="284.00" y="168.09" width="2.36" height="0.61" fill="#10ccff"/>
<rect x="286.36" y="165.74" width="2.96" height="2.36" fill="#a0ff60"/>
<rect x="286.36" y="168.09" width="2.36" height="0.61" fill="#a0ff60"/>
<rect x="288.72" y="165.74" width="2.36" height="2.36" fill="#0088ff"/>
<rect x="288.72" y="168.09" width="2.36" height="0.61" fill="#0088ff"/>
<rect x="284.00" y="168.10" width="2.96" height="2.36" fill="#0030ff"/>
<rect x="286.36" y="168.10" width="2.96" height="2.36" fill="#0088ff"/>
<rect x="288.72" y="168.10" width="2.36" height="2.36" fill="#00008f"/>
<rect x="321.10" y="135.40" width="2.36" height="2.36" fill="#00008f"/>
<rect x="321.10" y="137.75" width="2.36" height="0.61" fill="#00008f"/>
<rect x="321.10" y="137.76" width="2.96" height="2.36" fill="#0030ff"/>
<rect x="321.10" y="140.11" width="2.36" height="0.61" fill="#0030ff"/>
<rect x="323.46" y="137.76" width="2.36" height="2.36" fill="#0030ff"/>
<rect x="323.46" y="140.11" width="2.36" height="0.61" fill="#0030ff"/>
<rect x="321.10" y="140.12" width="2.96" height="2.36" fill="#0088ff"/>
<rect x="321.10" y="142.47" width="2.36" height="0.61" fill="#0088ff"/>
<rect x="323.46" y="140.12" width="2.36" height="2.36" fill="#10ccff"/>
<rect x="323.46" y="142.47" width="2.36" height="0.61" fill="#10ccff"/>
<rect x="321.10" y="142.48" width="2.96" height="2.36" fill="#10ccff"/>
<rect x="323.46" y="142.48" width="2.36" height="2.36" fill="#10ccff"/>
<rect x="323.46" y="144.83" width="2.36" height="0.61" fill="#10ccff"/>
<rect x="323.46" y="144.84" width="2.36" height="2.36" fill="#0000cc"/>
<rect x="321.26" y="156.30" width="2.96" height="2.36" fill="#00008f"/>
<rect x="321.26" y="158.65" width="2.36" height="0.61" fill="#00008f"/>
<rect x="323.62" y="156.30" width="2.36" height="2.36" fill="#0000cc"/>
<rect x="323.62" y="158.65" width="2.36" height="0.61" fill="#0000cc"/>
<rect x="321.26" y="158.66" width="2.96" height="2.36" fill="#10ccff"/>
<rect x="321.26" y="161.01" width="2.36" height="0.61" fill="#10ccff"/>
<rect x="323.62" y="158.66" width="2.36" height="2.36" fill="#10ccff"/>
<rect x="323.62" y="161.01" width="2.36" height="0.61" fill="#10ccff"/>
<rect x="318.90" y="161.02" width="2.96" height="2.36" fill="#0000cc"/>
<rect x="318.90" y="163.37" width="2.36" height="0.61" fill="#0000cc"/>
<rect x="321.26" y="161.02" width="2.96" height="2.36" fill="#50ffb0"/>
<rect x="321.26" y="163.37" width="2.36" height="0.61" fill="#50ffb0"/>
<rect x="323.62" y="161.02" width="2.36" height="2.36" fill="#10ccff"/>
<rect x="323.62" y="163.37" width="2.36" height="0.61" fill="#10ccff"/>
<rect x="318.90" y="163.38" width="2.96" height="2.36" fill="#10ccff"/>
<rect x="318.90" y="165.73" width="2.36" height="0.61" fill="#10ccff"/>
<rect x="321.26" y="163.38" width="2.96" height="2.36" fill="#e0f020"/>
<rect x="321.26" y="165.73" width="2.36" height="0.61" fill="#e0f020"/>
<rect x="323.62" y="163.38" width="2.36" height="2.36" fill="#10ccff"/>
<rect x="323.62" y="165.73" width="2.36" height="0.61" fill="#10ccff"/>
<rect x="318.90" y="165.74" width="2.96" height="2.36" fill="#10ccff"/>
<rect x="318.90" y="168.09" width="2.36" height="0.61" fill="#10ccff"/>
<rect x="321.26" y="165.74" width="2.96" height="2.36" fill="#a0ff60"/>
<rect x="321.26" y="168.09" width="2.36" height="0.61" fill="#a0ff60"/>
<rect x="323.62" y="165.74" width="2.36" height="2.36" fill="#0088ff"/>
<rect x="318.90" y="168.10" width="2.96" height="2.36" fill="#0000cc"/>
<rect x="321.26" y="168.10" width="2.36" height="2.36" fill="#0088ff"/>
<rect x="358.20" y="137.80" width="2.36" height="2.36" fill="#0000cc"/>
<rect x="358.20" y="140.15" width="2.36" height="0.61" fill="#0000cc"/>
<rect x="358.20" y="140.16" width="2.96" height="2.36" fill="#10ccff"/>
<rect x="358.20" y="142.51" width="2.36" height="0.61" fill="#10ccff"/>
<rect x="360.56" y="140.16" width="2.36" height="2.36" fill="#0088ff"/>
<rect x="360.56" y="142.51" width="2.36" height="0.61" fill="#0088ff"/>
<rect x="358.20" y="142.52" width="2.96" height="2.36" fill="#50ffb0"/>
<rect x="358.20" y="144.87" width="2.36" height="0.61" fill="#50ffb0"/>
<rect x="360.56" y="142.52" width="2.36" height="2.36" fill="#0088ff"/>
<rect x="358.20" y="144.88" width="2.36" height="2.36" fill="#0030ff"/>
<rect x="356.16" y="159.00" width="2.96" height="2.36" fill="#0030ff"/>
<rect x="356.16" y="161.35" width="2.36" height="0.61" fill="#0030ff"/>
<rect x="358.52" y="159.00" width="2.96" height="2.36" fill="#0030ff"/>
<rect x="358.52" y="161.35" width="2.36" height="0.61" fill="#0030ff"/>
<rect x="360.88" y="159.00" width="2.36" height="2.36" fill="#0030ff"/>
<rect x="360.88" y="161.35" width="2.36" height="0.61" fill="#0030ff"/>
<rect x="356.16" y="161.36" width="2.96" height="2.36" fill="#10ccff"/>
<rect x="356.16" y="163.71" width="2.36" height="0.61" fill="#10ccff"/>
<rect x="358.52" y="161.36" width="2.96" height="2.36" fill="#10ccff"/>
<rect x="358.52" y="163.71" width="2.36" height="0.61" fill="#10ccff"/>
<rect x="360.88" y="161.36" width="2.36" height="2.36" fill="#0088ff"/>
<rect x="360.88" y="163.71" width="2.36" height="0.61" fill="#0088ff"/>
<rect x="353.80" y="163.72" width="2.96" height="2.36" fill="#0000cc"/>
<rect x="353.80" y="166.07" width="2.36" height="0.61" fill="#0000cc"/>
<rect x="356.16" y="163.72" width="2.96" height="2.36" fill="#a0ff60"/>
<rect x="356.16" y="166.07" width="2.36" height="0.61" fill="#a0ff60"/>
<rect x="358.52" y="163.72" width="2.96" height="2.36" fill="#50ffb0"/>
<rect x="358.52" y="166.07" width="2.36" height="0.61" fill="#50ffb0"/>
<rect x="360.88" y="163.72" width="2.36" height="2.36" fill="#10ccff"/>
<rect x="360.88" y="166.07" width="2.36" height="0.61" fill="#10ccff"/>
<rect x="353.80" y="166.08" width="2.96" height="2.36" fill="#0000cc"/>
<rect x="356.16" y="166.08" width="2.96" height="2.36" fill="#a0ff60"/>
<rect x="356.16" y="168.43" width="2.36" height="0.61" fill="#a0ff60"/>
<rect x="358.52" y="166.08" width="2.96" height="2.36" fill="#a0ff60"/>
<rect x="358.52" y="168.43" width="2.36" height="0.61" fill="#a0ff60"/>
<rect x="360.88" y="166.08" width="2.36" height="2.36" fill="#10ccff"/>
<rect x="360.88" y="168.43" width="2.36" height="0.61" fill="#10ccff"/>
<rect x="356.16" y="168.44" width="2.96" height="2.36" fill="#0088ff"/>
<rect x="358.52" y="168.44" width="2.96" height="2.36" fill="#0088ff"/>
<rect x="360.88" y="168.44" width="2.36" height="2.36" fill="#00008f"/>
<rect x="395.66" y="137.80" width="2.36" height="2.36" fill="#0030ff"/>
<rect x="395.66" y="140.15" width="2.36" height="0.61" fill="#0030ff"/>
<rect x="393.30" y="140.16" width="2.96" height="2.36" fill="#00008f"/>
<rect x="393.30" y="142.51" width="2.36" height="0.61" fill="#00008f"/>
<rect x="395.66" y="140.16" width="2.96" height="2.36" fill="#10ccff"/>
<rect x="395.66" y="142.51" width="2.36" height="0.61" fill="#10ccff"/>
<rect x="398.02" y="140.16" width="2.36" height="2.36" fill="#00008f"/>
<rect x="393.30" y="142.52" width="2.96" height="2.36" fill="#00008f"/>
<rect x="395.66" y="142.52" width="2.36" height="2.36" fill="#10ccff"/>
<rect x="395.66" y="144.87" width="2.36" height="0.61" fill="#10ccff"/>
<rect x="395.66" y="144.88" width="2.36" height="2.36" fill="#0088ff"/>
<rect x="395.62" y="156.30" width="2.36" height="2.36" fill="#00008f"/>
<rect x="395.62" y="158.65" width="2.36" height="0.61" fill="#00008f"/>
<rect x="393.26" y="158.66" width="2.96" height="2.36" fill="#0088ff"/>
<rect x="393.26" y="161.01" width="2.36" height="0.61" fill="#0088ff"/>
<rect x="395.62" y="158.66" width="2.36" height="2.36" fill="#0088ff"/>
<rect x="395.62" y="161.01" width="2.36" height="0.61" fill="#0088ff"/>
<rect x="390.90" y="161.02" width="2.96" height="2.36" fill="#00008f"/>
<rect x="390.90" y="163.37" width="2.36" height="0.61" fill="#00008f"/>
<rect x="393.26" y="161.02" width="2.96" height="2.36" fill="#10ccff"/>
<rect x="393.26" y="163.37" width="2.36" height="0.61" fill="#10ccff"/>
<rect x="395.62" y="161.02" width="2.36" height="2.36" fill="#10ccff"/>
<rect x="395.62" y="163.37" width="2.36" height="0.61" fill="#10ccff"/>
<rect x="390.90" y="163.38" width="2.96" height="2.36" fill="#10ccff"/>
<rect x="390.90" y="165.73" width="2.36" height="0.61" fill="#10ccff"/>
<rect x="393.26" y="163.38" width="2.96" height="2.36" fill="#a0ff60"/>
<rect x="393.26" y="165.73" width="2.36" height="0.61" fill="#a0ff60"/>
<rect x="395.62" y="163.38" width="2.36" height="2.36" fill="#10ccff"/>
<rect x="395.62" y="165.73" width="2.36" height="0.61" fill="#10ccff"/>
<rect x="390.90" y="165.74" width="2.96" height="2.36" fill="#10ccff"/>
<rect x="390.90" y="168.09" width="2.36" height="0.61" fill="#10ccff"/>
<rect x="393.26" y="165.74" width="2.96" height="2.36" fill="#a0ff60"/>
<rect x="393.26" y="168.09" width="2.36" height="0.61" fill="#a0ff60"/>
<rect x="395.62" y="165.74" width="2.36" height="2.36" fill="#0088ff"/>
<rect x="390.90" y="168.10" width="2.96" height="2.36" fill="#0088ff"/>
<rect x="393.26" y="168.10" width="2.36" height="2.36" fill="#0088ff"/>
<rect x="432.96" y="137.80" width="2.36" height="2.36" fill="#0030ff"/>
<rect x="432.96" y="140.15" width="2.36" height="0.61" fill="#0030ff"/>
<rect x="430.60" y="140.16" width="2.96" height="2.36" fill="#0030ff"/>
<rect x="430.60" y="142.51" width="2.36" height="0.61" fill="#0030ff"/>
<rect x="432.96" y="140.16" width="2.36" height="2.36" fill="#10ccff"/>
<rect x="432.96" y="142.51" width="2.36" height="0.61" fill="#10ccff"/>
<rect x="430.60" y="142.52" width="2.96" height="2.36" fill="#0030ff"/>
<rect x="432.96" y="142.52" width="2.36" height="2.36" fill="#10ccff"/>
<rect x="432.96" y="144.87" width="2.36" height="0.61" fill="#10ccff"/>
<rect x="432.96" y="144.88" width="2.36" height="2.36" fill="#0030ff"/>
<rect x="432.88" y="156.30" width="2.36" height="2.36" fill="#00008f"/>
<rect x="432.88" y="158.65" width="2.36" height="0.61" fill="#00008f"/>
<rect x="430.52" y="158.66" width="2.96" height="2.36" fill="#0088ff"/>
<rect x="430.52" y="161.01" width="2.36" height="0.61" fill="#0088ff"/>
<rect x="432.88" y="158.66" width="2.36" height="2.36" fill="#0030ff"/>
<rect x="432.88" y="161.01" width="2.36" height="0.61" fill="#0030ff"/>
<rect x="428.16" y="161.02" width="2.96" height="2.36" fill="#10ccff"/>
<rect x="428.16" y="163.37" width="2.36" height="0.61" fill="#10ccff"/>
<rect x="430.52" y="161.02" width="2.96" height="2.36" fill="#50ffb0"/>
<rect x="430.52" y="163.37" width="2.36" height="0.61" fill="#50ffb0"/>
<rect x="432.88" y="161.02" width="2.36" height="2.36" fill="#10ccff"/>
<rect x="432.88" y="163.37" width="2.36" height="0.61" fill="#10ccff"/>
<rect x="425.80" y="163.38" width="2.96" height="2.36" fill="#0030ff"/>
<rect x="425.80" y="165.73" width="2.36" height="0.61" fill="#0030ff"/>
<rect x="428.16" y="163.38" width="2.96" height="2.36" fill="#e0f020"/>
<rect x="428.16" y="165.73" width="2.36" height="0.61" fill="#e0f020"/>
<rect x="430.52" y="163.38" width="2.96" height="2.36" fill="#e0f020"/>
<rect x="430.52" y="165.73" width="2.36" height="0.61" fill="#e0f020"/>
<rect x="432.88" y="163.38" width="2.36" height="2.36" fill="#10ccff"/>
<rect x="432.88" y="165.73" width="2.36" height="0.61" fill="#10ccff"/>
<rect x="425.80" y="165.74" width="2.96" height="2.36" fill="#0030ff"/>
<rect x="425.80" y="168.09" width="2.36" height="0.61" fill="#0030ff"/>
<rect x="428.16" y="165.74" width="2.96" height="2.36" fill="#a0ff60"/>
<rect x="428.16" y="168.09" width="2.36" height="0.61" fill="#a0ff60"/>
<rect x="430.52" y="165.74" width="2.96" height="2.36" fill="#e0f020"/>
<rect x="430.52" y="168.09" width="2.36" height="0.61" fill="#e0f020"/>
<rect x="432.88" y="165.74" width="2.36" height="2.36" fill="#0088ff"/>
<rect x="425.80" y="168.10" width="2.96" height="2.36" fill="#0000cc"/>
<rect x="425.80" y="170.45" width="2.36" height="0.61" fill="#0000cc"/>
<rect x="428.16" y="168.10" width="2.96" height="2.36" fill="#10ccff"/>
<rect x="430.52" y="168.10" width="2.36" height="2.36" fill="#10ccff"/>
<rect x="430.52" y="170.45" width="2.36" height="0.61" fill="#10ccff"/>
<rect x="425.80" y="170.46" width="2.36" height="2.36" fill="#00008f"/>
<rect x="430.52" y="170.46" width="2.36" height="2.36" fill="#0030ff"/>
<rect x="470.26" y="137.80" width="2.36" height="2.36" fill="#0088ff"/>
<rect x="470.26" y="140.15" width="2.36" height="0.61" fill="#0088ff"/>
<rect x="467.90" y="140.16" width="2.96" height="2.36" fill="#0030ff"/>
<rect x="467.90" y="142.51" width="2.36" height="0.61" fill="#0030ff"/>
<rect x="470.26" y="140.16" width="2.36" height="2.36" fill="#10ccff"/>
<rect x="470.26" y="142.51" width="2.36" height="0.61" fill="#10ccff"/>
<rect x="467.90" y="142.52" width="2.96" height="2.36" fill="#0088ff"/>
<rect x="467.90" y="144.87" width="2.36" height="0.61" fill="#0088ff"/>
<rect x="470.26" y="142.52" width="2.36" height="2.36" fill="#10ccff"/>
<rect x="470.26" y="144.87" width="2.36" height="0.61" fill="#10ccff"/>
<rect x="467.90" y="144.88" width="2.96" height="2.36" fill="#0030ff"/>
<rect x="470.26" y="144.88" width="2.36" height="2.36" fill="#0030ff"/>
<rect x="470.22" y="156.30" width="2.36" height="2.36" fill="#00008f"/>
<rect x="470.22" y="158.65" width="2.36" height="0.61" fill="#00008f"/>
<rect x="465.50" y="158.66" width="2.96" height="2.36" fill="#00008f"/>
<rect x="465.50" y="161.01" width="2.36" height="0.61" fill="#00008f"/>
<rect x="467.86" y="158.66" width="2.96" height="2.36" fill="#10ccff"/>
<rect x="467.86" y="161.01" width="2.36" height="0.61" fill="#10ccff"/>
<rect x="470.22" y="158.66" width="2.36" height="2.36" fill="#0088ff"/>
<rect x="470.22" y="161.01" width="2.36" height="0.61" fill="#0088ff"/>
<rect x="465.50" y="161.02" width="2.96" height="2.36" fill="#0088ff"/>
<rect x="465.50" y="163.37" width="2.36" height="0.61" fill="#0088ff"/>
<rect x="467.86" y="161.02" width="2.96" height="2.36" fill="#a0ff60"/>
<rect x="467.86" y="163.37" width="2.36" height="0.61" fill="#a0ff60"/>
<rect x="470.22" y="161.02" width="2.36" height="2.36" fill="#10ccff"/>
<rect x="470.22" y="163.37" width="2.36" height="0.61" fill="#10ccff"/>
<rect x="465.50" y="163.38" width="2.96" height="2.36" fill="#a0ff60"/>
<rect x="465.50" y="165.73" width="2.36" height="0.61" fill="#a0ff60"/>
<rect x="467.86" y="163.38" width="2.96" height="2.36" fill="#e0f020"/>
<rect x="467.86" y="165.73" width="2.36" height="0.61" fill="#e0f020"/>
<rect x="470.22" y="163.38" width="2.36" height="2.36" fill="#10ccff"/>
<rect x="470.22" y="165.73" width="2.36" height="0.61" fill="#10ccff"/>
<rect x="465.50" y="165.74" width="2.96" height="2.36" fill="#a0ff60"/>
<rect x="465.50" y="168.09" width="2.36" height="0.61" fill="#a0ff60"/>
<rect x="467.86" y="165.74" width="2.96" height="2.36" fill="#a0ff60"/>
<rect x="467.86" y="168.09" width="2.36" height="0.61" fill="#a0ff60"/>
<rect x="470.22" y="165.74" width="2.36" height="2.36" fill="#10ccff"/>
<rect x="470.22" y="168.09" width="2.36" height="0.61" fill="#10ccff"/>
<rect x="465.50" y="168.10" width="2.96" height="2.36" fill="#10ccff"/>
<rect x="465.50" y="170.45" width="2.36" height="0.61" fill="#10ccff"/>
<rect x="467.86" y="168.10" width="2.96" height="2.36" fill="#10ccff"/>
<rect x="467.86" y="170.45" width="2.36" height="0.61" fill="#10ccff"/>
<rect x="470.22" y="168.10" width="2.36" height="2.36" fill="#0000cc"/>
<rect x="465.50" y="170.46" width="2.96" height="2.36" fill="#0030ff"/>
<rect x="467.86" y="170.46" width="2.36" height="2.36" fill="#00008f"/>
<rect x="507.46" y="137.80" width="2.96" height="2.36" fill="#0000cc"/>
<rect x="507.46" y="140.15" width="2.36" height="0.61" fill="#0000cc"/>
<rect x="509.82" y="137.80" width="2.36" height="2.36" fill="#00008f"/>
<rect x="509.82" y="140.15" width="2.36" height="0.61" fill="#00008f"/>
<rect x="505.10" y="140.16" width="2.96" height="2.36" fill="#00008f"/>
<rect x="505.10" y="142.51" width="2.36" height="0.61" fill="#00008f"/>
<rect x="507.46" y="140.16" width="2.96" height="2.36" fill="#10ccff"/>
<rect x="507.46" y="142.51" width="2.36" height="0.61" fill="#10ccff"/>
<rect x="509.82" y="140.16" width="2.36" height="2.36" fill="#0030ff"/>
<rect x="509.82" y="142.51" width="2.36" height="0.61" fill="#0030ff"/>
<rect x="505.10" y="142.52" width="2.96" height="2.36" fill="#00008f"/>
<rect x="505.10" y="144.87" width="2.36" height="0.61" fill="#00008f"/>
<rect x="507.46" y="142.52" width="2.96" height="2.36" fill="#10ccff"/>
<rect x="507.46" y="144.87" width="2.36" height="0.61" fill="#10ccff"/>
<rect x="509.82" y="142.52" width="2.36" height="2.36" fill="#0030ff"/>
<rect x="505.10" y="144.88" width="2.96" height="2.36" fill="#0000cc"/>
<rect x="507.46" y="144.88" width="2.36" height="2.36" fill="#0088ff"/>
<rect x="512.18" y="144.88" width="2.36" height="2.36" fill="#00008f"/>
<rect x="505.16" y="159.00" width="2.96" height="2.36" fill="#0030ff"/>
<rect x="505.16" y="161.35" width="2.36" height="0.61" fill="#0030ff"/>
<rect x="507.52" y="159.00" width="2.36" height="2.36" fill="#0030ff"/>
<rect x="507.52" y="161.35" width="2.36" height="0.61" fill="#0030ff"/>
<rect x="505.16" y="161.36" width="2.96" height="2.36" fill="#10ccff"/>
<rect x="505.16" y="163.71" width="2.36" height="0.61" fill="#10ccff"/>
<rect x="507.52" y="161.36" width="2.96" height="2.36" fill="#10ccff"/>
<rect x="507.52" y="163.71" width="2.36" height="0.61" fill="#10ccff"/>
<rect x="509.88" y="161.36" width="2.36" height="2.36" fill="#0030ff"/>
<rect x="509.88" y="163.71" width="2.36" height="0.61" fill="#0030ff"/>
<rect x="502.80" y="163.72" width="2.96" height="2.36" fill="#0088ff"/>
<rect x="502.80" y="166.07" width="2.36" height="0.61" fill="#0088ff"/>
<rect x="505.16" y="163.72" width="2.96" height="2.36" fill="#a0ff60"/>
<rect x="505.16" y="166.07" width="2.36" height="0.61" fill="#a0ff60"/>
<rect x="507.52" y="163.72" width="2.96" height="2.36" fill="#50ffb0"/>
<rect x="507.52" y="166.07" width="2.36" height="0.61" fill="#50ffb0"/>
<rect x="509.88" y="163.72" width="2.36" height="2.36" fill="#0030ff"/>
<rect x="509.88" y="166.07" width="2.36" height="0.61" fill="#0030ff"/>
<rect x="502.80" y="166.08" width="2.96" height="2.36" fill="#0088ff"/>
<rect x="502.80" y="168.43" width="2.36" height="0.61" fill="#0088ff"/>
<rect x="505.16" y="166.08" width="2.96" height="2.36" fill="#e0f020"/>
<rect x="505.16" y="168.43" width="2.36" height="0.61" fill="#e0f020"/>
<rect x="507.52" y="166.08" width="2.96" height="2.36" fill="#a0ff60"/>
<rect x="507.52" y="168.43" width="2.36" height="0.61" fill="#a0ff60"/>
<rect x="509.88" y="166.08" width="2.36" height="2.36" fill="#0030ff"/>
<rect x="502.80" y="168.44" width="2.96" height="2.36" fill="#00008f"/>
<rect x="505.16" y="168.44" width="2.96" height="2.36" fill="#10ccff"/>
<rect x="505.16" y="170.79" width="2.36" height="0.61" fill="#10ccff"/>
<rect x="507.52" y="168.44" width="2.36" height="2.36" fill="#10ccff"/>
<rect x="505.16" y="170.80" width="2.36" height="2.36" fill="#0000cc"/>
<rect x="544.70" y="137.80" width="2.96" height="2.36" fill="#00008f"/>
<rect x="544.70" y="140.15" width="2.36" height="0.61" fill="#00008f"/>
<rect x="547.06" y="137.80" width="2.36" height="2.36" fill="#0030ff"/>
<rect x="547.06" y="140.15" width="2.36" height="0.61" fill="#0030ff"/>
<rect x="544.70" y="140.16" width="2.96" height="2.36" fill="#0088ff"/>
<rect x="544.70" y="142.51" width="2.36" height="0.61" fill="#0088ff"/>
<rect x="547.06" y="140.16" width="2.36" height="2.36" fill="#10ccff"/>
<rect x="547.06" y="142.51" width="2.36" height="0.61" fill="#10ccff"/>
<rect x="544.70" y="142.52" width="2.96" height="2.36" fill="#10ccff"/>
<rect x="544.70" y="144.87" width="2.36" height="0.61" fill="#10ccff"/>
<rect x="547.06" y="142.52" width="2.36" height="2.36" fill="#0088ff"/>
<rect x="544.70" y="144.88" width="2.36" height="2.36" fill="#0088ff"/>
<rect x="544.62" y="159.00" width="2.96" height="2.36" fill="#0088ff"/>
<rect x="544.62" y="161.35" width="2.36" height="0.61" fill="#0088ff"/>
<rect x="546.98" y="159.00" width="2.36" height="2.36" fill="#0088ff"/>
<rect x="546.98" y="161.35" width="2.36" height="0.61" fill="#0088ff"/>
<rect x="542.26" y="161.36" width="2.96" height="2.36" fill="#0088ff"/>
<rect x="542.26" y="163.71" width="2.36" height="0.61" fill="#0088ff"/>
<rect x="544.62" y="161.36" width="2.96" height="2.36" fill="#10ccff"/>
<rect x="544.62" y="163.71" width="2.36" height="0.61" fill="#10ccff"/>
<rect x="546.98" y="161.36" width="2.36" height="2.36" fill="#10ccff"/>
<rect x="546.98" y="163.71" width="2.36" height="0.61" fill="#10ccff"/>
<rect x="539.90" y="163.72" width="2.96" height="2.36" fill="#0030ff"/>
<rect x="539.90" y="166.07" width="2.36" height="0.61" fill="#0030ff"/>
<rect x="542.26" y="163.72" width="2.96" height="2.36" fill="#50ffb0"/>
<rect x="542.26" y="166.07" width="2.36" height="0.61" fill="#50ffb0"/>
<rect x="544.62" y="163.72" width="2.96" height="2.36" fill="#a0ff60"/>
<rect x="544.62" y="166.07" width="2.36" height="0.61" fill="#a0ff60"/>
<rect x="546.98" y="163.72" width="2.36" height="2.36" fill="#10ccff"/>
<rect x="546.98" y="166.07" width="2.36" height="0.61" fill="#10ccff"/>
<rect x="539.90" y="166.08" width="2.96" height="2.36" fill="#0088ff"/>
<rect x="542.26" y="166.08" width="2.96" height="2.36" fill="#a0ff60"/>
<rect x="542.26" y="168.43" width="2.36" height="0.61" fill="#a0ff60"/>
<rect x="544.62" y="166.08" width="2.96" height="2.36" fill="#e0f020"/>
<rect x="544.62" y="168.43" width="2.36" height="0.61" fill="#e0f020"/>
<rect x="546.98" y="166.08" width="2.36" height="2.36" fill="#10ccff"/>
<rect x="546.98" y="168.43" width="2.36" height="0.61" fill="#10ccff"/>
<rect x="542.26" y="168.44" width="2.96" height="2.36" fill="#0088ff"/>
<rect x="544.62" y="168.44" width="2.96" height="2.36" fill="#10ccff"/>
<rect x="546.98" y="168.44" width="2.36" height="2.36" fill="#0000cc"/>
<rect x="582.00" y="140.06" width="2.96" height="2.36" fill="#10ccff"/>
<rect x="582.00" y="142.41" width="2.36" height="0.61" fill="#10ccff"/>
<rect x="584.36" y="140.06" width="2.96" height="2.36" fill="#0030ff"/>
<rect x="584.36" y="142.41" width="2.36" height="0.61" fill="#0030ff"/>
<rect x="586.72" y="140.06" width="2.36" height="2.36" fill="#00008f"/>
<rect x="582.00" y="142.42" width="2.96" height="2.36" fill="#50ffb0"/>
<rect x="582.00" y="144.77" width="2.36" height="0.61" fill="#50ffb0"/>
<rect x="584.36" y="142.42" width="2.36" height="2.36" fill="#0000cc"/>
<rect x="582.00" y="144.78" width="2.36" height="2.36" fill="#0088ff"/>
<rect x="581.96" y="159.00" width="2.96" height="2.36" fill="#0000cc"/>
<rect x="581.96" y="161.35" width="2.36" height="0.61" fill="#0000cc"/>
<rect x="584.32" y="159.00" width="2.96" height="2.36" fill="#0000cc"/>
<rect x="584.32" y="161.35" width="2.36" height="0.61" fill="#0000cc"/>
<rect x="586.68" y="159.00" width="2.36" height="2.36" fill="#0000cc"/>
<rect x="586.68" y="161.35" width="2.36" height="0.61" fill="#0000cc"/>
<rect x="581.96" y="161.36" width="2.96" height="2.36" fill="#10ccff"/>
<rect x="581.96" y="163.71" width="2.36" height="0.61" fill="#10ccff"/>
<rect x="584.32" y="161.36" width="2.96" height="2.36" fill="#0030ff"/>
<rect x="584.32" y="163.71" width="2.36" height="0.61" fill="#0030ff"/>
<rect x="586.68" y="161.36" width="2.36" height="2.36" fill="#0030ff"/>
<rect x="586.68" y="163.71" width="2.36" height="0.61" fill="#0030ff"/>
<rect x="579.60" y="163.72" width="2.96" height="2.36" fill="#10ccff"/>
<rect x="579.60" y="166.07" width="2.36" height="0.61" fill="#10ccff"/>
<rect x="581.96" y="163.72" width="2.96" height="2.36" fill="#a0ff60"/>
<rect x="581.96" y="166.07" width="2.36" height="0.61" fill="#a0ff60"/>
<rect x="584.32" y="163.72" width="2.96" height="2.36" fill="#0030ff"/>
<rect x="584.32" y="166.07" width="2.36" height="0.61" fill="#0030ff"/>
<rect x="586.68" y="163.72" width="2.36" height="2.36" fill="#0030ff"/>
<rect x="586.68" y="166.07" width="2.36" height="0.61" fill="#0030ff"/>
<rect x="579.60" y="166.08" width="2.96" height="2.36" fill="#10ccff"/>
<rect x="581.96" y="166.08" width="2.96" height="2.36" fill="#a0ff60"/>
<rect x="581.96" y="168.43" width="2.36" height="0.61" fill="#a0ff60"/>
<rect x="584.32" y="166.08" width="2.96" height="2.36" fill="#0030ff"/>
<rect x="586.68" y="166.08" width="2.36" height="2.36" fill="#0030ff"/>
<rect x="581.96" y="168.44" width="2.36" height="2.36" fill="#0088ff"/>
<rect x="621.46" y="137.80" width="2.36" height="2.36" fill="#0030ff"/>
<rect x="621.46" y="140.15" width="2.36" height="0.61" fill="#0030ff"/>
<rect x="619.10" y="140.16" width="2.96" height="2.36" fill="#0088ff"/>
<rect x="619.10" y="142.51" width="2.36" height="0.61" fill="#0088ff"/>
<rect x="621.46" y="140.16" width="2.36" height="2.36" fill="#10ccff"/>
<rect x="621.46" y="142.51" width="2.36" height="0.61" fill="#10ccff"/>
<rect x="619.10" y="142.52" width="2.96" height="2.36" fill="#10ccff"/>
<rect x="621.46" y="142.52" width="2.36" height="2.36" fill="#10ccff"/>
<rect x="621.46" y="144.87" width="2.36" height="0.61" fill="#10ccff"/>
<rect x="621.46" y="144.88" width="2.36" height="2.36" fill="#0000cc"/>
<rect x="619.06" y="159.00" width="2.96" height="2.36" fill="#0088ff"/>
<rect x="619.06" y="161.35" width="2.36" height="0.61" fill="#0088ff"/>
<rect x="621.42" y="159.00" width="2.36" height="2.36" fill="#0088ff"/>
<rect x="621.42" y="161.35" width="2.36" height="0.61" fill="#0088ff"/>
<rect x="619.06" y="161.36" width="2.96" height="2.36" fill="#10ccff"/>
<rect x="619.06" y="163.71" width="2.36" height="0.61" fill="#10ccff"/>
<rect x="621.42" y="161.36" width="2.36" height="2.36" fill="#10ccff"/>
<rect x="621.42" y="163.71" width="2.36" height="0.61" fill="#10ccff"/>
<rect x="619.06" y="163.72" width="2.96" height="2.36" fill="#a0ff60"/>
<rect x="619.06" y="166.07" width="2.36" height="0.61" fill="#a0ff60"/>
<rect x="621.42" y="163.72" width="2.36" height="2.36" fill="#10ccff"/>
<rect x="621.42" y="166.07" width="2.36" height="0.61" fill="#10ccff"/>
<rect x="616.70" y="166.08" width="2.96" height="2.36" fill="#0030ff"/>
<rect x="619.06" y="166.08" width="2.96" height="2.36" fill="#a0ff60"/>
<rect x="619.06" y="168.43" width="2.36" height="0.61" fill="#a0ff60"/>
<rect x="621.42" y="166.08" width="2.36" height="2.36" fill="#10ccff"/>
<rect x="621.42" y="168.43" width="2.36" height="0.61" fill="#10ccff"/>
<rect x="619.06" y="168.44" width="2.96" height="2.36" fill="#0088ff"/>
<rect x="621.42" y="168.44" width="2.36" height="2.36" fill="#0000cc"/>
<rect x="658.76" y="137.80" width="2.36" height="2.36" fill="#0030ff"/>
<rect x="658.76" y="140.15" width="2.36" height="0.61" fill="#0030ff"/>
<rect x="656.40" y="140.16" width="2.96" height="2.36" fill="#0030ff"/>
<rect x="656.40" y="142.51" width="2.36" height="0.61" fill="#0030ff"/>
<rect x="658.76" y="140.16" width="2.96" height="2.36" fill="#10ccff"/>
<rect x="658.76" y="142.51" width="2.36" height="0.61" fill="#10ccff"/>
<rect x="661.12" y="140.16" width="2.36" height="2.36" fill="#0000cc"/>
<rect x="661.12" y="142.51" width="2.36" height="0.61" fill="#0000cc"/>
<rect x="656.40" y="142.52" width="2.96" height="2.36" fill="#0088ff"/>
<rect x="658.76" y="142.52" width="2.96" height="2.36" fill="#10ccff"/>
<rect x="658.76" y="144.87" width="2.36" height="0.61" fill="#10ccff"/>
<rect x="661.12" y="142.52" width="2.36" height="2.36" fill="#0000cc"/>
<rect x="658.76" y="144.88" width="2.36" height="2.36" fill="#0030ff"/>
<rect x="656.36" y="159.00" width="2.96" height="2.36" fill="#0030ff"/>
<rect x="656.36" y="161.35" width="2.36" height="0.61" fill="#0030ff"/>
<rect x="658.72" y="159.00" width="2.96" height="2.36" fill="#00008f"/>
<rect x="658.72" y="161.35" width="2.36" height="0.61" fill="#00008f"/>
<rect x="661.08" y="159.00" width="2.36" height="2.36" fill="#0030ff"/>
<rect x="661.08" y="161.35" width="2.36" height="0.61" fill="#0030ff"/>
<rect x="656.36" y="161.36" width="2.96" height="2.36" fill="#10ccff"/>
<rect x="656.36" y="163.71" width="2.36" height="0.61" fill="#10ccff"/>
<rect x="658.72" y="161.36" width="2.96" height="2.36" fill="#10ccff"/>
<rect x="658.72" y="163.71" width="2.36" height="0.61" fill="#10ccff"/>
<rect x="661.08" y="161.36" width="2.36" height="2.36" fill="#10ccff"/>
<rect x="661.08" y="163.71" width="2.36" height="0.61" fill="#10ccff"/>
<rect x="656.36" y="163.72" width="2.96" height="2.36" fill="#50ffb0"/>
<rect x="656.36" y="166.07" width="2.36" height="0.61" fill="#50ffb0"/>
<rect x="658.72" y="163.72" width="2.96" height="2.36" fill="#50ffb0"/>
<rect x="658.72" y="166.07" width="2.36" height="0.61" fill="#50ffb0"/>
<rect x="661.08" y="163.72" width="2.36" height="2.36" fill="#10ccff"/>
<rect x="661.08" y="166.07" width="2.36" height="0.61" fill="#10ccff"/>
<rect x="654.00" y="166.08" width="2.96" height="2.36" fill="#00008f"/>
<rect x="656.36" y="166.08" width="2.96" height="2.36" fill="#50ffb0"/>
<rect x="656.36" y="168.43" width="2.36" height="0.61" fill="#50ffb0"/>
<rect x="658.72" y="166.08" width="2.96" height="2.36" fill="#50ffb0"/>
<rect x="658.72" y="168.43" width="2.36" height="0.61" fill="#50ffb0"/>
<rect x="661.08" y="166.08" width="2.36" height="2.36" fill="#10ccff"/>
<rect x="661.08" y="168.43" width="2.36" height="0.61" fill="#10ccff"/>
<rect x="656.36" y="168.44" width="2.96" height="2.36" fill="#0088ff"/>
<rect x="658.72" y="168.44" width="2.96" height="2.36" fill="#0088ff"/>
<rect x="661.08" y="168.44" width="2.36" height="2.36" fill="#0030ff"/>
<rect x="696.06" y="137.80" width="2.36" height="2.36" fill="#0000cc"/>
<rect x="696.06" y="140.15" width="2.36" height="0.61" fill="#0000cc"/>
<rect x="693.70" y="140.16" width="2.96" height="2.36" fill="#0030ff"/>
<rect x="693.70" y="142.51" width="2.36" height="0.61" fill="#0030ff"/>
<rect x="696.06" y="140.16" width="2.36" height="2.36" fill="#10ccff"/>
<rect x="696.06" y="142.51" width="2.36" height="0.61" fill="#10ccff"/>
<rect x="693.70" y="142.52" width="2.96" height="2.36" fill="#0088ff"/>
<rect x="696.06" y="142.52" width="2.36" height="2.36" fill="#50ffb0"/>
<rect x="696.06" y="144.87" width="2.36" height="0.61" fill="#50ffb0"/>
<rect x="696.06" y="144.88" width="2.36" height="2.36" fill="#0030ff"/>
<rect x="696.06" y="159.00" width="2.36" height="2.36" fill="#00008f"/>
<rect x="696.06" y="161.35" width="2.36" height="0.61" fill="#00008f"/>
<rect x="693.70" y="161.36" width="2.96" height="2.36" fill="#0088ff"/>
<rect x="693.70" y="163.71" width="2.36" height="0.61" fill="#0088ff"/>
<rect x="696.06" y="161.36" width="2.96" height="2.36" fill="#10ccff"/>
<rect x="696.06" y="163.71" width="2.36" height="0.61" fill="#10ccff"/>
<rect x="698.42" y="161.36" width="2.36" height="2.36" fill="#0088ff"/>
<rect x="698.42" y="163.71" width="2.36" height="0.61" fill="#0088ff"/>
<rect x="693.70" y="163.72" width="2.96" height="2.36" fill="#50ffb0"/>
<rect x="693.70" y="166.07" width="2.36" height="0.61" fill="#50ffb0"/>
<rect x="696.06" y="163.72" width="2.96" height="2.36" fill="#a0ff60"/>
<rect x="696.06" y="166.07" width="2.36" height="0.61" fill="#a0ff60"/>
<rect x="698.42" y="163.72" width="2.36" height="2.36" fill="#0030ff"/>
<rect x="698.42" y="166.07" width="2.36" height="0.61" fill="#0030ff"/>
<rect x="693.70" y="166.08" width="2.96" height="2.36" fill="#50ffb0"/>
<rect x="693.70" y="168.43" width="2.36" height="0.61" fill="#50ffb0"/>
<rect x="696.06" y="166.08" width="2.96" height="2.36" fill="#a0ff60"/>
<rect x="696.06" y="168.43" width="2.36" height="0.61" fill="#a0ff60"/>
<rect x="698.42" y="166.08" width="2.36" height="2.36" fill="#0030ff"/>
<rect x="693.70" y="168.44" width="2.96" height="2.36" fill="#0030ff"/>
<rect x="696.06" y="168.44" width="2.36" height="2.36" fill="#0088ff"/>
<rect x="733.36" y="135.40" width="2.36" height="2.36" fill="#0030ff"/>
<rect x="733.36" y="137.75" width="2.36" height="0.61" fill="#0030ff"/>
<rect x="733.36" y="137.76" width="2.96" height="2.36" fill="#0030ff"/>
<rect x="733.36" y="140.11" width="2.36" height="0.61" fill="#0030ff"/>
<rect x="735.72" y="137.76" width="2.36" height="2.36" fill="#00008f"/>
<rect x="735.72" y="140.11" width="2.36" height="0.61" fill="#00008f"/>
<rect x="731.00" y="140.12" width="2.96" height="2.36" fill="#00008f"/>
<rect x="731.00" y="142.47" width="2.36" height="0.61" fill="#00008f"/>
<rect x="733.36" y="140.12" width="2.96" height="2.36" fill="#10ccff"/>
<rect x="733.36" y="142.47" width="2.36" height="0.61" fill="#10ccff"/>
<rect x="735.72" y="140.12" width="2.36" height="2.36" fill="#00008f"/>
<rect x="731.00" y="142.48" width="2.96" height="2.36" fill="#0030ff"/>
<rect x="731.00" y="144.83" width="2.36" height="0.61" fill="#0030ff"/>
<rect x="733.36" y="142.48" width="2.36" height="2.36" fill="#10ccff"/>
<rect x="733.36" y="144.83" width="2.36" height="0.61" fill="#10ccff"/>
<rect x="731.00" y="144.84" width="2.96" height="2.36" fill="#00008f"/>
<rect x="733.36" y="144.84" width="2.36" height="2.36" fill="#0088ff"/>
<rect x="733.36" y="159.00" width="2.36" height="2.36" fill="#0030ff"/>
<rect x="733.36" y="161.35" width="2.36" height="0.61" fill="#0030ff"/>
<rect x="731.00" y="161.36" width="2.96" height="2.36" fill="#0030ff"/>
<rect x="731.00" y="163.71" width="2.36" height="0.61" fill="#0030ff"/>
<rect x="733.36" y="161.36" width="2.96" height="2.36" fill="#10ccff"/>
<rect x="733.36" y="163.71" width="2.36" height="0.61" fill="#10ccff"/>
<rect x="735.72" y="161.36" width="2.36" height="2.36" fill="#0030ff"/>
<rect x="735.72" y="163.71" width="2.36" height="0.61" fill="#0030ff"/>
<rect x="731.00" y="163.72" width="2.96" height="2.36" fill="#10ccff"/>
<rect x="731.00" y="166.07" width="2.36" height="0.61" fill="#10ccff"/>
<rect x="733.36" y="163.72" width="2.96" height="2.36" fill="#10ccff"/>
<rect x="733.36" y="166.07" width="2.36" height="0.61" fill="#10ccff"/>
<rect x="735.72" y="163.72" width="2.36" height="2.36" fill="#0030ff"/>
<rect x="735.72" y="166.07" width="2.36" height="0.61" fill="#0030ff"/>
<rect x="731.00" y="166.08" width="2.96" height="2.36" fill="#10ccff"/>
<rect x="731.00" y="168.43" width="2.36" height="0.61" fill="#10ccff"/>
<rect x="733.36" y="166.08" width="2.96" height="2.36" fill="#10ccff"/>
<rect x="733.36" y="168.43" width="2.36" height="0.61" fill="#10ccff"/>
<rect x="735.72" y="166.08" width="2.36" height="2.36" fill="#0088ff"/>
<rect x="735.72" y="168.43" width="2.36" height="0.61" fill="#0088ff"/>
<rect x="731.00" y="168.44" width="2.96" height="2.36" fill="#0000cc"/>
<rect x="733.36" y="168.44" width="2.96" height="2.36" fill="#0000cc"/>
<rect x="735.72" y="168.44" width="2.36" height="2.36" fill="#0000cc"/>
<rect x="768.10" y="135.40" width="2.36" height="2.36" fill="#00008f"/>
<rect x="770.46" y="137.76" width="2.36" height="2.36" fill="#0030ff"/>
<rect x="770.46" y="140.11" width="2.36" height="0.61" fill="#0030ff"/>
<rect x="770.46" y="140.12" width="2.96" height="2.36" fill="#50ffb0"/>
<rect x="770.46" y="142.47" width="2.36" height="0.61" fill="#50ffb0"/>
<rect x="772.82" y="140.12" width="2.36" height="2.36" fill="#0000cc"/>
<rect x="770.46" y="142.48" width="2.36" height="2.36" fill="#50ffb0"/>
<rect x="770.46" y="144.83" width="2.36" height="0.61" fill="#50ffb0"/>
<rect x="770.46" y="144.84" width="2.36" height="2.36" fill="#0030ff"/>
<rect x="770.46" y="159.00" width="2.36" height="2.36" fill="#0030ff"/>
<rect x="770.46" y="161.35" width="2.36" height="0.61" fill="#0030ff"/>
<rect x="770.46" y="161.36" width="2.36" height="2.36" fill="#10ccff"/>
<rect x="770.46" y="163.71" width="2.36" height="0.61" fill="#10ccff"/>
<rect x="768.10" y="163.72" width="2.96" height="2.36" fill="#00008f"/>
<rect x="770.46" y="163.72" width="2.96" height="2.36" fill="#a0ff60"/>
<rect x="770.46" y="166.07" width="2.36" height="0.61" fill="#a0ff60"/>
<rect x="772.82" y="163.72" width="2.36" height="2.36" fill="#0030ff"/>
<rect x="772.82" y="166.07" width="2.36" height="0.61" fill="#0030ff"/>
<rect x="770.46" y="166.08" width="2.96" height="2.36" fill="#50ffb0"/>
<rect x="770.46" y="168.43" width="2.36" height="0.61" fill="#50ffb0"/>
<rect x="772.82" y="166.08" width="2.36" height="2.36" fill="#0030ff"/>
<rect x="770.46" y="168.44" width="2.36" height="2.36" fill="#0030ff"/>
<rect x="807.66" y="135.40" width="2.36" height="2.36" fill="#0000cc"/>
<rect x="807.66" y="137.75" width="2.36" height="0.61" fill="#0000cc"/>
<rect x="807.66" y="137.76" width="2.96" height="2.36" fill="#0000cc"/>
<rect x="807.66" y="140.11" width="2.36" height="0.61" fill="#0000cc"/>
<rect x="810.02" y="137.76" width="2.36" height="2.36" fill="#00008f"/>
<rect x="810.02" y="140.11" width="2.36" height="0.61" fill="#00008f"/>
<rect x="807.66" y="140.12" width="2.96" height="2.36" fill="#50ffb0"/>
<rect x="807.66" y="142.47" width="2.36" height="0.61" fill="#50ffb0"/>
<rect x="810.02" y="140.12" width="2.36" height="2.36" fill="#0000cc"/>
<rect x="810.02" y="142.47" width="2.36" height="0.61" fill="#0000cc"/>
<rect x="805.30" y="142.48" width="2.96" height="2.36" fill="#0030ff"/>
<rect x="807.66" y="142.48" width="2.96" height="2.36" fill="#50ffb0"/>
<rect x="807.66" y="144.83" width="2.36" height="0.61" fill="#50ffb0"/>
<rect x="810.02" y="142.48" width="2.36" height="2.36" fill="#0000cc"/>
<rect x="807.66" y="144.84" width="2.36" height="2.36" fill="#0030ff"/>
<rect x="805.30" y="161.10" width="2.96" height="2.36" fill="#0000cc"/>
<rect x="805.30" y="163.45" width="2.36" height="0.61" fill="#0000cc"/>
<rect x="807.66" y="161.10" width="2.96" height="2.36" fill="#10ccff"/>
<rect x="807.66" y="163.45" width="2.36" height="0.61" fill="#10ccff"/>
<rect x="810.02" y="161.10" width="2.36" height="2.36" fill="#0030ff"/>
<rect x="810.02" y="163.45" width="2.36" height="0.61" fill="#0030ff"/>
<rect x="805.30" y="163.46" width="2.96" height="2.36" fill="#0030ff"/>
<rect x="805.30" y="165.81" width="2.36" height="0.61" fill="#0030ff"/>
<rect x="807.66" y="163.46" width="2.96" height="2.36" fill="#50ffb0"/>
<rect x="807.66" y="165.81" width="2.36" height="0.61" fill="#50ffb0"/>
<rect x="810.02" y="163.46" width="2.96" height="2.36" fill="#10ccff"/>
<rect x="810.02" y="165.81" width="2.36" height="0.61" fill="#10ccff"/>
<rect x="812.38" y="163.46" width="2.36" height="2.36" fill="#00008f"/>
<rect x="805.30" y="165.82" width="2.96" height="2.36" fill="#0030ff"/>
<rect x="805.30" y="168.17" width="2.36" height="0.61" fill="#0030ff"/>
<rect x="807.66" y="165.82" width="2.96" height="2.36" fill="#50ffb0"/>
<rect x="807.66" y="168.17" width="2.36" height="0.61" fill="#50ffb0"/>
<rect x="810.02" y="165.82" width="2.36" height="2.36" fill="#10ccff"/>
<rect x="810.02" y="168.17" width="2.36" height="0.61" fill="#10ccff"/>
<rect x="805.30" y="168.18" width="2.96" height="2.36" fill="#00008f"/>
<rect x="807.66" y="168.18" width="2.96" height="2.36" fill="#0030ff"/>
<rect x="810.02" y="168.18" width="2.36" height="2.36" fill="#0030ff"/>
<rect x="844.96" y="137.80" width="2.36" height="2.36" fill="#0088ff"/>
<rect x="844.96" y="140.15" width="2.36" height="0.61" fill="#0088ff"/>
<rect x="842.60" y="140.16" width="2.96" height="2.36" fill="#00008f"/>
<rect x="842.60" y="142.51" width="2.36" height="0.61" fill="#00008f"/>
<rect x="844.96" y="140.16" width="2.96" height="2.36" fill="#10ccff"/>
<rect x="844.96" y="142.51" width="2.36" height="0.61" fill="#10ccff"/>
<rect x="847.32" y="140.16" width="2.36" height="2.36" fill="#0030ff"/>
<rect x="847.32" y="142.51" width="2.36" height="0.61" fill="#0030ff"/>
<rect x="842.60" y="142.52" width="2.96" height="2.36" fill="#0030ff"/>
<rect x="842.60" y="144.87" width="2.36" height="0.61" fill="#0030ff"/>
<rect x="844.96" y="142.52" width="2.96" height="2.36" fill="#10ccff"/>
<rect x="844.96" y="144.87" width="2.36" height="0.61" fill="#10ccff"/>
<rect x="847.32" y="142.52" width="2.36" height="2.36" fill="#0030ff"/>
<rect x="842.60" y="144.88" width="2.96" height="2.36" fill="#0000cc"/>
<rect x="844.96" y="144.88" width="2.36" height="2.36" fill="#0000cc"/>
<rect x="844.96" y="159.00" width="2.96" height="2.36" fill="#0030ff"/>
<rect x="844.96" y="161.35" width="2.36" height="0.61" fill="#0030ff"/>
<rect x="847.32" y="159.00" width="2.36" height="2.36" fill="#10ccff"/>
<rect x="847.32" y="161.35" width="2.36" height="0.61" fill="#10ccff"/>
<rect x="842.60" y="161.36" width="2.96" height="2.36" fill="#0088ff"/>
<rect x="842.60" y="163.71" width="2.36" height="0.61" fill="#0088ff"/>
<rect x="844.96" y="161.36" width="2.96" height="2.36" fill="#10ccff"/>
<rect x="844.96" y="163.71" width="2.36" height="0.61" fill="#10ccff"/>
<rect x="847.32" y="161.36" width="2.36" height="2.36" fill="#10ccff"/>
<rect x="847.32" y="163.71" width="2.36" height="0.61" fill="#10ccff"/>
<rect x="842.60" y="163.72" width="2.96" height="2.36" fill="#50ffb0"/>
<rect x="842.60" y="166.07" width="2.36" height="0.61" fill="#50ffb0"/>
<rect x="844.96" y="163.72" width="2.96" height="2.36" fill="#50ffb0"/>
<rect x="844.96" y="166.07" width="2.36" height="0.61" fill="#50ffb0"/>
<rect x="847.32" y="163.72" width="2.36" height="2.36" fill="#10ccff"/>
<rect x="847.32" y="166.07" width="2.36" height="0.61" fill="#10ccff"/>
<rect x="842.60" y="166.08" width="2.96" height="2.36" fill="#50ffb0"/>
<rect x="842.60" y="168.43" width="2.36" height="0.61" fill="#50ffb0"/>
<rect x="844.96" y="166.08" width="2.96" height="2.36" fill="#50ffb0"/>
<rect x="844.96" y="168.43" width="2.36" height="0.61" fill="#50ffb0"/>
<rect x="847.32" y="166.08" width="2.36" height="2.36" fill="#0088ff"/>
<rect x="842.60" y="168.44" width="2.96" height="2.36" fill="#0030ff"/>
<rect x="844.96" y="168.44" width="2.36" height="2.36" fill="#0030ff"/>
<rect x="177.10" y="485.43" width="1.90" height="1.90" fill="#00008f"/>
<rect x="658.59" y="485.28" width="2.20" height="2.20" fill="#00008f"/>
<rect x="793.94" y="471.02" width="2.20" height="2.20" fill="#0000a8"/>
<rect x="288.72" y="567.21" width="2.10" height="2.10" fill="#00008f"/>
<rect x="204.58" y="597.72" width="2.40" height="2.80" fill="#00008f"/>
<rect x="225.48" y="600.45" width="2.40" height="3.20" fill="#00008f"/>
<rect x="376.85" y="560.28" width="2.40" height="2.40" fill="#00008f"/>
<rect x="376.85" y="574.35" width="2.40" height="2.40" fill="#00008f"/>
<rect x="521.18" y="574.35" width="2.40" height="2.40" fill="#00008f"/>
<rect x="497.94" y="592.71" width="2.40" height="2.00" fill="#00008f"/>
<rect x="407.02" y="610.00" width="3.00" height="1.40" fill="#00008f"/>
<rect x="355.95" y="615.07" width="2.40" height="2.60" fill="#00008f"/>
<rect x="379.19" y="624.14" width="2.40" height="3.60" fill="#00008f"/>
<rect x="349.11" y="627.69" width="2.40" height="4.30" fill="#00008f"/>
<rect x="560.83" y="574.35" width="2.40" height="2.40" fill="#00008f"/>
<rect x="553.80" y="607.95" width="2.40" height="2.00" fill="#00008f"/>
<rect x="581.93" y="611.37" width="2.00" height="1.40" fill="#00008f"/>
<rect x="628.21" y="592.61" width="2.40" height="2.20" fill="#00008f"/>
<rect x="672.75" y="563.02" width="2.40" height="2.40" fill="#00008f"/>
<rect x="698.14" y="555.99" width="2.40" height="2.00" fill="#00008f"/>
<rect x="695.79" y="567.32" width="2.40" height="2.40" fill="#00008f"/>
<rect x="716.89" y="590.36" width="2.40" height="2.40" fill="#00008f"/>
<rect x="847.16" y="571.88" width="2.40" height="4.60" fill="#0000a8"/>
<rect x="775.09" y="620.73" width="2.40" height="3.00" fill="#00008f"/>
<rect x="821.57" y="623.94" width="2.40" height="3.60" fill="#00008f"/>
<rect x="176.88" y="506.25" width="5.00" height="2.50" fill="#0000a8"/>
<rect x="176.88" y="527.50" width="5.00" height="7.12" fill="#0004f6"/>
<rect x="176.88" y="531.50" width="5.00" height="3.12" fill="#0000a8"/>
<rect x="214.00" y="506.25" width="4.75" height="2.12" fill="#0000a8"/>
<rect x="216.50" y="508.38" width="2.25" height="2.50" fill="#0000a8"/>
<rect x="214.00" y="527.50" width="4.75" height="2.38" fill="#0004f6"/>
<rect x="216.50" y="529.88" width="2.25" height="4.75" fill="#0000a8"/>
<rect x="251.25" y="504.00" width="2.50" height="6.88" fill="#0000a8"/>
<rect x="253.75" y="506.25" width="2.25" height="2.50" fill="#0000a8"/>
<rect x="251.25" y="527.50" width="4.75" height="7.12" fill="#0004f6"/>
<rect x="251.25" y="530.25" width="2.50" height="4.38" fill="#0000a8"/>
<rect x="286.25" y="504.00" width="2.50" height="4.75" fill="#0000a8"/>
<rect x="286.25" y="525.25" width="2.50" height="2.25" fill="#0000a8"/>
<rect x="284.00" y="527.50" width="4.75" height="4.62" fill="#0004f6"/>
<rect x="323.38" y="504.00" width="2.38" height="2.50" fill="#00008f"/>
<rect x="321.12" y="525.25" width="4.62" height="2.25" fill="#00008f"/>
<rect x="321.12" y="527.50" width="2.25" height="4.62" fill="#0004f6"/>
<rect x="360.75" y="504.00" width="2.25" height="2.50" fill="#00008f"/>
<rect x="358.38" y="506.25" width="2.38" height="2.50" fill="#00008f"/>
<rect x="356.12" y="527.50" width="4.62" height="4.62" fill="#0088ff"/>
<rect x="358.38" y="527.50" width="2.38" height="4.62" fill="#0004f6"/>
<rect x="395.75" y="504.00" width="2.25" height="4.75" fill="#0004f6"/>
<rect x="393.62" y="527.50" width="2.12" height="2.38" fill="#0088ff"/>
<rect x="391.12" y="529.88" width="4.62" height="2.25" fill="#00008f"/>
<rect x="393.62" y="529.88" width="2.12" height="2.25" fill="#0004f6"/>
<rect x="432.88" y="504.00" width="2.50" height="4.75" fill="#0000a8"/>
<rect x="428.25" y="527.50" width="4.62" height="4.62" fill="#0000a8"/>
<rect x="465.62" y="527.50" width="4.50" height="4.62" fill="#0000a8"/>
<rect x="507.25" y="506.25" width="2.50" height="2.50" fill="#00008f"/>
<rect x="507.25" y="525.25" width="2.50" height="2.25" fill="#0000a8"/>
<rect x="505.00" y="527.50" width="4.75" height="4.62" fill="#0004f6"/>
<rect x="547.00" y="504.00" width="2.50" height="4.75" fill="#00008f"/>
<rect x="544.75" y="527.50" width="2.25" height="2.38" fill="#0000a8"/>
<rect x="542.25" y="529.88" width="4.75" height="2.25" fill="#0004f6"/>
<rect x="584.25" y="501.75" width="2.25" height="4.75" fill="#00008f"/>
<rect x="581.75" y="527.50" width="2.50" height="4.62" fill="#0088ff"/>
<rect x="579.62" y="529.88" width="2.12" height="2.25" fill="#00008f"/>
<rect x="586.50" y="527.50" width="2.25" height="2.38" fill="#00008f"/>
<rect x="621.50" y="504.00" width="2.25" height="4.75" fill="#00008f"/>
<rect x="619.25" y="506.25" width="2.25" height="2.50" fill="#00008f"/>
<rect x="619.25" y="525.25" width="4.50" height="4.62" fill="#0004f6"/>
<rect x="619.25" y="529.88" width="2.25" height="2.25" fill="#0004f6"/>
<rect x="658.75" y="504.00" width="2.25" height="4.75" fill="#00008f"/>
<rect x="658.75" y="525.25" width="4.62" height="2.25" fill="#00008f"/>
<rect x="656.50" y="527.50" width="4.50" height="4.62" fill="#0004f6"/>
<rect x="696.00" y="506.25" width="2.25" height="2.50" fill="#00008f"/>
<rect x="693.88" y="527.50" width="2.12" height="2.38" fill="#0000a8"/>
<rect x="696.00" y="527.50" width="2.25" height="2.38" fill="#0088ff"/>
<rect x="696.00" y="529.88" width="2.25" height="2.25" fill="#0004f6"/>
<rect x="733.25" y="504.00" width="2.50" height="4.75" fill="#0004f6"/>
<rect x="733.25" y="527.50" width="2.25" height="2.38" fill="#0000a8"/>
<rect x="731.00" y="529.88" width="2.25" height="2.25" fill="#0004f6"/>
<rect x="742.62" y="525.25" width="2.25" height="2.50" fill="#00008f"/>
<rect x="770.50" y="504.00" width="2.25" height="2.50" fill="#00008f"/>
<rect x="770.50" y="527.50" width="2.25" height="2.38" fill="#0088ff"/>
<rect x="770.50" y="529.88" width="2.25" height="2.25" fill="#0004f6"/>
<rect x="807.88" y="501.75" width="2.38" height="7.00" fill="#0000a8"/>
<rect x="807.88" y="525.25" width="2.38" height="6.88" fill="#0000a8"/>
<rect x="807.88" y="527.50" width="2.38" height="2.38" fill="#0004f6"/>
<rect x="845.25" y="504.00" width="2.25" height="4.75" fill="#0000a8"/>
<rect x="845.25" y="525.25" width="2.25" height="2.25" fill="#0000a8"/>
<rect x="842.88" y="527.50" width="4.62" height="4.62" fill="#0004f6"/>
<rect x="174.38" y="650.50" width="2.50" height="10.00" fill="#0030ff"/>
<rect x="179.00" y="650.50" width="2.25" height="10.00" fill="#0030ff"/>
<rect x="172.12" y="660.50" width="4.75" height="15.25" fill="#0030ff"/>
<rect x="176.88" y="660.50" width="2.12" height="15.25" fill="#0000a8"/>
<rect x="179.00" y="660.50" width="2.25" height="15.25" fill="#0088ff"/>
<rect x="176.88" y="675.75" width="4.38" height="7.50" fill="#00008f"/>
<rect x="209.38" y="650.50" width="2.50" height="10.00" fill="#0030ff"/>
<rect x="211.88" y="650.50" width="6.88" height="10.00" fill="#0088ff"/>
<rect x="209.38" y="660.50" width="4.62" height="15.25" fill="#0030ff"/>
<rect x="214.00" y="660.50" width="2.25" height="15.25" fill="#10ccff"/>
<rect x="216.25" y="660.50" width="2.50" height="15.25" fill="#0088ff"/>
<rect x="216.25" y="675.75" width="2.50" height="7.50" fill="#0030ff"/>
<rect x="246.88" y="650.50" width="2.12" height="10.00" fill="#0000a8"/>
<rect x="249.00" y="650.50" width="7.00" height="10.00" fill="#0088ff"/>
<rect x="246.88" y="660.50" width="2.12" height="15.25" fill="#0000a8"/>
<rect x="249.00" y="660.50" width="2.50" height="15.25" fill="#10ccff"/>
<rect x="251.50" y="660.50" width="4.50" height="15.25" fill="#0088ff"/>
<rect x="249.00" y="675.75" width="2.50" height="7.50" fill="#0000a8"/>
<rect x="284.00" y="650.62" width="9.12" height="10.00" fill="#00008f"/>
<rect x="288.50" y="650.62" width="2.50" height="10.00" fill="#0000a8"/>
<rect x="288.50" y="660.62" width="2.50" height="15.25" fill="#0030ff"/>
<rect x="321.25" y="642.75" width="2.25" height="17.88" fill="#0004f6"/>
<rect x="321.25" y="660.62" width="2.25" height="15.25" fill="#00008f"/>
<rect x="328.12" y="642.75" width="2.50" height="33.12" fill="#0004f6"/>
<rect x="358.50" y="642.75" width="2.12" height="7.88" fill="#00008f"/>
<rect x="363.12" y="650.62" width="2.25" height="10.00" fill="#00008f"/>
<rect x="367.88" y="642.75" width="2.12" height="17.88" fill="#0004f6"/>
<rect x="395.62" y="642.75" width="9.38" height="17.88" fill="#0004f6"/>
<rect x="395.62" y="642.75" width="2.50" height="17.88" fill="#0000a8"/>
<rect x="398.12" y="642.75" width="2.50" height="7.88" fill="#00008f"/>
<rect x="407.25" y="637.25" width="2.38" height="13.38" fill="#0004f6"/>
<rect x="440.00" y="637.25" width="6.88" height="5.50" fill="#0004f6"/>
<rect x="435.38" y="642.75" width="4.62" height="7.88" fill="#0000a8"/>
<rect x="440.00" y="642.75" width="5.00" height="7.88" fill="#0088ff"/>
<rect x="445.00" y="642.75" width="1.88" height="7.88" fill="#0004f6"/>
<rect x="433.12" y="650.62" width="2.25" height="10.00" fill="#0000a8"/>
<rect x="437.75" y="650.62" width="9.12" height="10.00" fill="#0004f6"/>
<rect x="437.75" y="650.62" width="2.25" height="10.00" fill="#0088ff"/>
<rect x="437.75" y="660.62" width="2.25" height="15.25" fill="#00008f"/>
<rect x="477.25" y="637.25" width="4.62" height="5.50" fill="#0004f6"/>
<rect x="472.50" y="642.75" width="4.75" height="7.88" fill="#0004f6"/>
<rect x="477.25" y="642.75" width="2.50" height="7.88" fill="#10ccff"/>
<rect x="479.75" y="642.75" width="2.12" height="7.88" fill="#0004f6"/>
<rect x="475.00" y="650.62" width="2.25" height="10.00" fill="#0004f6"/>
<rect x="477.25" y="650.62" width="2.50" height="10.00" fill="#10ccff"/>
<rect x="479.75" y="650.62" width="2.12" height="10.00" fill="#0000a8"/>
<rect x="509.75" y="642.75" width="7.12" height="7.88" fill="#0004f6"/>
<rect x="509.75" y="642.75" width="2.38" height="7.88" fill="#0000a8"/>
<rect x="512.12" y="650.62" width="6.88" height="10.00" fill="#0004f6"/>
<rect x="516.88" y="650.62" width="2.12" height="10.00" fill="#0000a8"/>
<rect x="544.75" y="642.75" width="2.38" height="7.88" fill="#0000a8"/>
<rect x="547.12" y="650.62" width="2.25" height="10.00" fill="#0000a8"/>
<rect x="549.38" y="642.75" width="2.50" height="17.88" fill="#0088ff"/>
<rect x="551.88" y="637.25" width="2.25" height="13.38" fill="#10ccff"/>
<rect x="551.88" y="650.62" width="2.25" height="10.00" fill="#0088ff"/>
<rect x="554.12" y="637.25" width="2.38" height="23.38" fill="#0000a8"/>
<rect x="584.38" y="642.75" width="6.88" height="7.88" fill="#0004f6"/>
<rect x="584.38" y="642.75" width="2.12" height="7.88" fill="#0000a8"/>
<rect x="589.00" y="642.75" width="2.25" height="7.88" fill="#0000a8"/>
<rect x="582.25" y="650.62" width="9.00" height="10.00" fill="#0004f6"/>
<rect x="582.25" y="650.62" width="2.12" height="10.00" fill="#0000a8"/>
<rect x="589.00" y="660.62" width="2.25" height="15.25" fill="#00008f"/>
<rect x="593.75" y="637.25" width="2.25" height="5.50" fill="#0000a8"/>
<rect x="593.75" y="642.75" width="2.25" height="17.88" fill="#0088ff"/>
<rect x="621.50" y="642.75" width="2.50" height="17.88" fill="#0000a8"/>
<rect x="624.00" y="642.75" width="4.75" height="17.88" fill="#0088ff"/>
<rect x="626.25" y="650.62" width="2.50" height="10.00" fill="#10ccff"/>
<rect x="626.25" y="660.62" width="2.50" height="15.25" fill="#00008f"/>
<rect x="656.50" y="642.75" width="4.75" height="17.88" fill="#0000a8"/>
<rect x="661.25" y="642.75" width="4.62" height="7.88" fill="#0004f6"/>
<rect x="661.25" y="650.62" width="2.25" height="10.00" fill="#0004f6"/>
<rect x="663.50" y="650.62" width="2.38" height="10.00" fill="#0000a8"/>
<rect x="668.12" y="642.75" width="2.50" height="7.88" fill="#0004f6"/>
<rect x="693.75" y="642.75" width="2.25" height="7.88" fill="#0000a8"/>
<rect x="701.00" y="642.75" width="4.25" height="7.88" fill="#0004f6"/>
<rect x="698.38" y="650.62" width="6.88" height="10.00" fill="#0004f6"/>
<rect x="698.38" y="650.62" width="2.62" height="10.00" fill="#0000a8"/>
<rect x="701.00" y="675.88" width="2.12" height="7.50" fill="#0000a8"/>
<rect x="714.75" y="660.62" width="2.25" height="15.25" fill="#00008f"/>
<rect x="735.62" y="642.75" width="2.50" height="7.88" fill="#0088ff"/>
<rect x="738.12" y="642.75" width="2.12" height="7.88" fill="#0004f6"/>
<rect x="735.62" y="650.62" width="4.62" height="10.00" fill="#0004f6"/>
<rect x="740.25" y="650.62" width="2.50" height="10.00" fill="#0000a8"/>
<rect x="772.88" y="642.75" width="7.12" height="7.88" fill="#0004f6"/>
<rect x="772.88" y="650.62" width="4.62" height="10.00" fill="#0004f6"/>
<rect x="777.50" y="650.62" width="4.62" height="10.00" fill="#0000a8"/>
<rect x="805.38" y="650.62" width="2.38" height="10.00" fill="#0004f6"/>
<rect x="810.00" y="642.75" width="5.00" height="17.88" fill="#0004f6"/>
<rect x="810.25" y="642.75" width="2.25" height="17.88" fill="#0088ff"/>
<rect x="845.25" y="643.12" width="4.38" height="7.38" fill="#0000a8"/>
<rect x="842.50" y="650.50" width="9.38" height="10.12" fill="#0000a8"/>
<rect x="847.50" y="650.50" width="4.38" height="10.12" fill="#00008f"/>
</g>
<path d="M133.5 58.5H865.5V319.5H133.5ZM133.5 319.5v8.2M133.5 58.5v-8.2M249.5 319.5v8.2M249.5 58.5v-8.2M365.5 319.5v8.2M365.5 58.5v-8.2M482.5 319.5v8.2M482.5 58.5v-8.2M598.5 319.5v8.2M598.5 58.5v-8.2M714.5 319.5v8.2M714.5 58.5v-8.2M831.5 319.5v8.2M831.5 58.5v-8.2M133.5 319.5h-4.2M865.5 319.5h4.2M133.5 315.5h-4.2M865.5 315.5h4.2M133.5 311.5h-4.2M865.5 311.5h4.2M133.5 307.5h-4.2M865.5 307.5h4.2M133.5 304.5h-8.2M865.5 304.5h8.2M133.5 283.5h-4.2M865.5 283.5h4.2M133.5 271.5h-4.2M865.5 271.5h4.2M133.5 263.5h-4.2M865.5 263.5h4.2M133.5 256.5h-4.2M865.5 256.5h4.2M133.5 251.5h-4.2M865.5 251.5h4.2M133.5 246.5h-4.2M865.5 246.5h4.2M133.5 242.5h-4.2M865.5 242.5h4.2M133.5 239.5h-4.2M865.5 239.5h4.2M133.5 236.5h-8.2M865.5 236.5h8.2M133.5 215.5h-4.2M865.5 215.5h4.2M133.5 203.5h-4.2M865.5 203.5h4.2M133.5 194.5h-4.2M865.5 194.5h4.2M133.5 188.5h-4.2M865.5 188.5h4.2M133.5 182.5h-4.2M865.5 182.5h4.2M133.5 178.5h-4.2M865.5 178.5h4.2M133.5 174.5h-4.2M865.5 174.5h4.2M133.5 170.5h-4.2M865.5 170.5h4.2M133.5 167.5h-8.2M865.5 167.5h8.2M133.5 147.5h-4.2M865.5 147.5h4.2M133.5 135.5h-4.2M865.5 135.5h4.2M133.5 126.5h-4.2M865.5 126.5h4.2M133.5 119.5h-4.2M865.5 119.5h4.2M133.5 114.5h-4.2M865.5 114.5h4.2M133.5 109.5h-4.2M865.5 109.5h4.2M133.5 105.5h-4.2M865.5 105.5h4.2M133.5 102.5h-4.2M865.5 102.5h4.2M133.5 99.5h-8.2M865.5 99.5h8.2M133.5 78.5h-4.2M865.5 78.5h4.2M133.5 66.5h-4.2M865.5 66.5h4.2M133.5 58.5h-4.2M865.5 58.5h4.2" fill="none" stroke="#262626" stroke-width="1"/>
<rect x="873.0" y="58.0" width="24.0" height="262.0" fill="url(#jet)"/>
<path d="M873.5 58.5H896.5V319.5H873.5ZM896.5 267.5h-3M896.5 215.5h-3M896.5 162.5h-3M896.5 110.5h-3" fill="none" stroke="#262626" stroke-width="1"/>
<text transform="translate(903.90,325.00) scale(0.08468,0.08929)" font-size="200" stroke="#262626" stroke-width="2.87" fill="#262626">0</text>
<text transform="translate(905.00,273.00) scale(0.07027,0.08929)" font-size="200" stroke="#262626" stroke-width="3.13" fill="#262626">1</text>
<text transform="translate(904.00,221.00) scale(0.08198,0.08929)" font-size="200" stroke="#262626" stroke-width="2.92" fill="#262626">2</text>
<text transform="translate(904.00,168.00) scale(0.08198,0.08929)" font-size="200" stroke="#262626" stroke-width="2.92" fill="#262626">3</text>
<text transform="translate(903.70,116.00) scale(0.09099,0.08929)" font-size="200" stroke="#262626" stroke-width="2.77" fill="#262626">4</text>
<text transform="translate(904.10,64.00) scale(0.07928,0.08929)" font-size="200" stroke="#262626" stroke-width="2.97" fill="#262626">5</text>
<text transform="translate(108.00,351.00) scale(0.09960,0.09000)" font-size="200" stroke="#262626" stroke-width="2.64" fill="#262626">17:00</text>
<text transform="translate(224.00,351.00) scale(0.09960,0.09000)" font-size="200" stroke="#262626" stroke-width="2.64" fill="#262626">17:10</text>
<text transform="translate(340.00,351.00) scale(0.09960,0.09000)" font-size="200" stroke="#262626" stroke-width="2.64" fill="#262626">17:20</text>
<text transform="translate(457.00,351.00) scale(0.09960,0.09000)" font-size="200" stroke="#262626" stroke-width="2.64" fill="#262626">17:30</text>
<text transform="translate(573.00,351.00) scale(0.09960,0.09000)" font-size="200" stroke="#262626" stroke-width="2.64" fill="#262626">17:40</text>
<text transform="translate(689.00,351.00) scale(0.09960,0.09000)" font-size="200" stroke="#262626" stroke-width="2.64" fill="#262626">17:50</text>
<text transform="translate(806.00,351.00) scale(0.09960,0.09000)" font-size="200" stroke="#262626" stroke-width="2.64" fill="#262626">18:00</text>
<text transform="translate(63.10,105.00) scale(0.09784,0.08929)" font-size="200" stroke="#262626" stroke-width="2.67" fill="#262626">10000</text>
<text transform="translate(69.00,174.00) scale(0.09438,0.08929)" font-size="200" stroke="#262626" stroke-width="2.72" fill="#262626">1000</text>
<text transform="translate(74.90,242.00) scale(0.09491,0.08929)" font-size="200" stroke="#262626" stroke-width="2.71" fill="#262626">100</text>
<text transform="translate(80.10,311.00) scale(0.08649,0.08929)" font-size="200" stroke="#262626" stroke-width="2.84" fill="#262626">10</text>
<text transform="translate(474.90,376.00) scale(0.11167,0.10580)" font-size="200" stroke="#262626" stroke-width="2.30" fill="#262626">Time</text>
<text transform="translate(51.6,189.00) rotate(-90) translate(-57.60,0.00) scale(0.10769,0.10507)" font-size="200" stroke="#262626" stroke-width="2.35" fill="#262626">Energy (eV)</text>
<text transform="translate(837.00,47.00) scale(0.09877,0.08986)" font-size="200" stroke="#000" stroke-width="2.65" fill="#000">Log counts</text>
<path d="M133.5 422.5H865.5V683.5H133.5ZM133.5 683.5v8.2M133.5 422.5v-8.2M249.5 683.5v8.2M249.5 422.5v-8.2M365.5 683.5v8.2M365.5 422.5v-8.2M482.5 683.5v8.2M482.5 422.5v-8.2M598.5 683.5v8.2M598.5 422.5v-8.2M714.5 683.5v8.2M714.5 422.5v-8.2M831.5 683.5v8.2M831.5 422.5v-8.2M133.5 683.5h-4.2M865.5 683.5h4.2M133.5 679.5h-4.2M865.5 679.5h4.2M133.5 675.5h-4.2M865.5 675.5h4.2M133.5 671.5h-4.2M865.5 671.5h4.2M133.5 668.5h-8.2M865.5 668.5h8.2M133.5 647.5h-4.2M865.5 647.5h4.2M133.5 635.5h-4.2M865.5 635.5h4.2M133.5 627.5h-4.2M865.5 627.5h4.2M133.5 620.5h-4.2M865.5 620.5h4.2M133.5 615.5h-4.2M865.5 615.5h4.2M133.5 610.5h-4.2M865.5 610.5h4.2M133.5 606.5h-4.2M865.5 606.5h4.2M133.5 603.5h-4.2M865.5 603.5h4.2M133.5 600.5h-8.2M865.5 600.5h8.2M133.5 579.5h-4.2M865.5 579.5h4.2M133.5 567.5h-4.2M865.5 567.5h4.2M133.5 558.5h-4.2M865.5 558.5h4.2M133.5 552.5h-4.2M865.5 552.5h4.2M133.5 546.5h-4.2M865.5 546.5h4.2M133.5 542.5h-4.2M865.5 542.5h4.2M133.5 538.5h-4.2M865.5 538.5h4.2M133.5 534.5h-4.2M865.5 534.5h4.2M133.5 531.5h-8.2M865.5 531.5h8.2M133.5 511.5h-4.2M865.5 511.5h4.2M133.5 499.5h-4.2M865.5 499.5h4.2M133.5 490.5h-4.2M865.5 490.5h4.2M133.5 483.5h-4.2M865.5 483.5h4.2M133.5 478.5h-4.2M865.5 478.5h4.2M133.5 473.5h-4.2M865.5 473.5h4.2M133.5 469.5h-4.2M865.5 469.5h4.2M133.5 466.5h-4.2M865.5 466.5h4.2M133.5 463.5h-8.2M865.5 463.5h8.2M133.5 442.5h-4.2M865.5 442.5h4.2M133.5 430.5h-4.2M865.5 430.5h4.2M133.5 422.5h-4.2M865.5 422.5h4.2" fill="none" stroke="#262626" stroke-width="1"/>
<rect x="873.0" y="422.0" width="24.0" height="262.0" fill="url(#jet)"/>
<path d="M873.5 422.5H896.5V683.5H873.5ZM896.5 631.5h-3M896.5 579.5h-3M896.5 526.5h-3M896.5 474.5h-3" fill="none" stroke="#262626" stroke-width="1"/>
<text transform="translate(903.90,689.00) scale(0.08468,0.08929)" font-size="200" stroke="#262626" stroke-width="2.87" fill="#262626">0</text>
<text transform="translate(905.00,637.00) scale(0.07027,0.08929)" font-size="200" stroke="#262626" stroke-width="3.13" fill="#262626">1</text>
<text transform="translate(904.00,585.00) scale(0.08198,0.08929)" font-size="200" stroke="#262626" stroke-width="2.92" fill="#262626">2</text>
<text transform="translate(904.00,532.00) scale(0.08198,0.08929)" font-size="200" stroke="#262626" stroke-width="2.92" fill="#262626">3</text>
<text transform="translate(903.70,480.00) scale(0.09099,0.08929)" font-size="200" stroke="#262626" stroke-width="2.77" fill="#262626">4</text>
<text transform="translate(904.10,428.00) scale(0.07928,0.08929)" font-size="200" stroke="#262626" stroke-width="2.97" fill="#262626">5</text>
<text transform="translate(108.00,715.00) scale(0.09960,0.09000)" font-size="200" stroke="#262626" stroke-width="2.64" fill="#262626">17:00</text>
<text transform="translate(224.00,715.00) scale(0.09960,0.09000)" font-size="200" stroke="#262626" stroke-width="2.64" fill="#262626">17:10</text>
<text transform="translate(340.00,715.00) scale(0.09960,0.09000)" font-size="200" stroke="#262626" stroke-width="2.64" fill="#262626">17:20</text>
<text transform="translate(457.00,715.00) scale(0.09960,0.09000)" font-size="200" stroke="#262626" stroke-width="2.64" fill="#262626">17:30</text>
<text transform="translate(573.00,715.00) scale(0.09960,0.09000)" font-size="200" stroke="#262626" stroke-width="2.64" fill="#262626">17:40</text>
<text transform="translate(689.00,715.00) scale(0.09960,0.09000)" font-size="200" stroke="#262626" stroke-width="2.64" fill="#262626">17:50</text>
<text transform="translate(806.00,715.00) scale(0.09960,0.09000)" font-size="200" stroke="#262626" stroke-width="2.64" fill="#262626">18:00</text>
<text transform="translate(63.10,469.00) scale(0.09784,0.08929)" font-size="200" stroke="#262626" stroke-width="2.67" fill="#262626">10000</text>
<text transform="translate(69.00,538.00) scale(0.09438,0.08929)" font-size="200" stroke="#262626" stroke-width="2.72" fill="#262626">1000</text>
<text transform="translate(74.90,606.00) scale(0.09491,0.08929)" font-size="200" stroke="#262626" stroke-width="2.71" fill="#262626">100</text>
<text transform="translate(80.10,675.00) scale(0.08649,0.08929)" font-size="200" stroke="#262626" stroke-width="2.84" fill="#262626">10</text>
<text transform="translate(474.90,740.00) scale(0.11167,0.10580)" font-size="200" stroke="#262626" stroke-width="2.30" fill="#262626">Time</text>
<text transform="translate(51.6,553.00) rotate(-90) translate(-57.60,0.00) scale(0.10769,0.10507)" font-size="200" stroke="#262626" stroke-width="2.35" fill="#262626">Energy (eV)</text>
<text transform="translate(837.00,411.00) scale(0.09877,0.08986)" font-size="200" stroke="#000" stroke-width="2.65" fill="#000">Log counts</text>
<text transform="translate(371.60,25.00) scale(0.11349,0.10072)" font-size="200" font-weight="bold" stroke="#000" stroke-width="6.54" stroke-linejoin="round" fill="#000">RPCICA160626T17.PNG</text>
<text transform="translate(413.30,49.00) scale(0.11544,0.10072)" font-size="200" font-weight="bold" stroke="#000" stroke-width="6.48" stroke-linejoin="round" fill="#000">Solar Wind Ions</text>
<text transform="translate(419.50,413.00) scale(0.11555,0.09929)" font-size="200" font-weight="bold" stroke="#000" stroke-width="6.52" stroke-linejoin="round" fill="#000">Cometary Ions</text>
</svg>
</body></html>
